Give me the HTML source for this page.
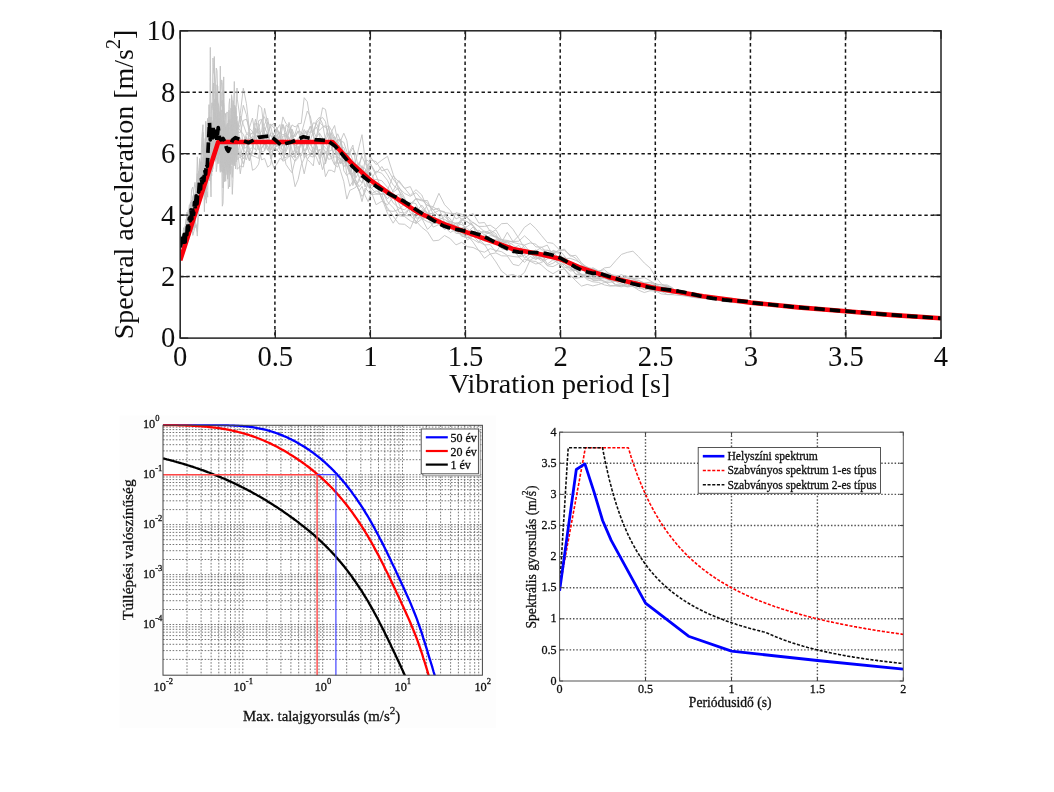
<!DOCTYPE html>
<html><head><meta charset="utf-8"><title>Spectra</title>
<style>
html,body{margin:0;padding:0;background:#fff;}
body{width:1054px;height:792px;overflow:hidden;font-family:"Liberation Serif",serif;}
svg{display:block;position:absolute;left:0;top:0;}
</style></head><body>
<svg width="1054" height="792" viewBox="0 0 1054 792">
<defs><filter id="b1" x="0" y="0" width="1054" height="792" filterUnits="userSpaceOnUse"><feGaussianBlur stdDeviation="0.35"/></filter><filter id="b2" x="0" y="0" width="1054" height="792" filterUnits="userSpaceOnUse"><feGaussianBlur stdDeviation="0.55"/></filter></defs>
<rect width="1054" height="792" fill="#fff"/>
<g id="c1" filter="url(#b1)">
<clipPath id="cp1"><rect x="180.2" y="30.8" width="760.8" height="307.3"/></clipPath>
<path d="M274.9,30.8 V338.1 M370.0,30.8 V338.1 M465.1,30.8 V338.1 M560.2,30.8 V338.1 M655.3,30.8 V338.1 M750.4,30.8 V338.1 M845.5,30.8 V338.1 M180.2,276.6 H941.0 M180.2,215.2 H941.0 M180.2,153.7 H941.0 M180.2,92.3 H941.0" stroke="#181818" stroke-width="1.5" stroke-dasharray="3.4 2.75" fill="none"/>
<g clip-path="url(#cp1)">
<path d="M180.2,250.2 L181.3,255.8 L182.5,251.5 L183.6,240.2 L184.8,238.4 L185.9,234.0 L187.0,230.8 L188.2,233.3 L189.3,237.1 L190.5,231.5 L191.6,218.4 L192.8,209.1 L193.9,216.7 L195.0,227.9 L196.2,210.6 L197.3,179.4 L198.5,176.4 L199.6,187.9 L200.7,179.7 L201.9,176.9 L203.0,168.6 L203.7,151.6 L204.4,155.2 L205.0,169.1 L205.7,169.0 L206.4,165.7 L207.0,174.9 L207.7,167.5 L208.3,150.8 L209.0,133.9 L209.7,131.9 L210.3,47.4 L211.0,135.1 L211.7,131.8 L212.3,131.7 L213.0,120.6 L213.7,145.7 L214.3,146.7 L215.0,128.1 L215.7,161.3 L216.3,152.1 L217.0,127.8 L217.7,109.6 L218.3,125.6 L219.0,141.2 L219.7,126.5 L220.3,146.1 L221.0,167.7 L221.7,140.2 L222.3,106.2 L223.0,101.4 L223.7,103.2 L224.3,111.1 L225.0,119.1 L225.7,113.3 L226.3,129.0 L227.0,149.0 L227.7,129.2 L228.3,145.3 L229.0,135.7 L229.7,134.4 L230.3,144.9 L231.0,108.1 L231.6,124.0 L232.3,163.0 L233.0,137.1 L233.6,147.0 L234.3,164.1 L235.0,151.8 L235.6,143.8 L236.3,136.3 L237.0,135.6 L237.3,131.3 L240.3,116.0 L243.3,124.5 L246.4,133.3 L249.4,132.7 L252.5,144.4 L255.5,128.4 L258.6,134.1 L261.6,131.8 L264.6,108.3 L267.7,123.9 L270.7,158.7 L273.8,147.8 L276.8,150.0 L279.9,152.7 L282.9,161.2 L286.0,159.6 L289.0,156.3 L292.0,135.2 L295.1,152.5 L298.1,151.7 L301.2,143.9 L304.2,138.8 L307.3,146.2 L310.3,141.0 L313.3,130.5 L316.4,127.2 L319.4,134.0 L322.5,153.2 L325.5,161.6 L328.6,153.2 L331.6,158.5 L334.6,165.0 L337.7,157.8 L340.7,141.0 L343.8,142.3 L346.8,151.5 L349.9,161.5 L352.9,185.6 L355.9,171.5 L359.0,162.5 L362.0,169.3 L365.1,172.1 L368.1,168.2 L370.4,171.8 L376.1,183.7 L381.8,199.1 L387.5,207.8 L393.2,216.2 L398.9,223.9 L404.6,224.3 L410.3,228.7 L416.0,214.9 L421.8,214.3 L427.5,204.8 L433.2,209.9 L438.9,208.2 L444.6,222.5 L450.3,221.4 L456.0,223.4 L461.7,231.0 L467.4,239.9 L473.1,236.0 L478.8,241.8 L484.5,244.9 L490.2,244.6 L495.9,252.1 L501.6,244.3 L507.3,241.6 L513.0,248.3 L518.8,251.4 L524.5,245.2 L530.2,252.4 L535.9,254.3 L541.6,257.9 L547.3,257.2 L553.0,252.6 L558.7,257.2 L564.4,258.5 L570.1,258.3 L575.8,260.3 L581.5,263.4 L587.2,267.3 L592.9,272.9 L598.6,273.4 L604.3,277.2 L610.1,280.4 L615.8,285.3 L621.5,285.5 L627.2,285.9 L632.9,284.5 L638.6,282.4 L644.3,286.1 L650.0,285.7 L655.7,284.2 L661.4,285.0 L667.1,285.8 L672.8,288.5 L674.7,291.4 L684.2,293.0 L693.7,295.5 L703.2,296.6 L712.8,298.4 L722.3,300.2 L731.8,301.5 L741.3,301.7 L750.8,302.8 L760.3,303.3 L769.8,304.3 L779.3,305.3 L788.8,306.1 L798.3,306.8 L807.9,307.9 L817.4,308.6 L826.9,309.2 L836.4,309.9 L845.9,310.7 L855.4,311.5 L864.9,312.6 L874.4,313.3 L883.9,314.2 L893.5,315.0 L903.0,315.7 L912.5,316.3 L922.0,317.0 L931.5,317.7 L941.0,318.4" stroke="#c2c2c2" stroke-width="0.9" fill="none" stroke-linejoin="round"/>
<path d="M180.2,249.8 L181.3,238.4 L182.5,239.8 L183.6,242.0 L184.8,241.4 L185.9,229.4 L187.0,224.2 L188.2,226.1 L189.3,209.8 L190.5,205.9 L191.6,219.5 L192.8,235.4 L193.9,231.2 L195.0,227.0 L196.2,224.6 L197.3,236.1 L198.5,213.9 L199.6,198.4 L200.7,177.1 L201.9,172.7 L203.0,156.7 L203.7,177.9 L204.4,211.7 L205.0,189.6 L205.7,175.7 L206.4,192.8 L207.0,178.4 L207.7,154.8 L208.3,131.6 L209.0,136.9 L209.7,163.2 L210.3,145.1 L211.0,145.5 L211.7,128.5 L212.3,127.8 L213.0,129.7 L213.7,145.0 L214.3,143.7 L215.0,99.0 L215.7,109.8 L216.3,117.5 L217.0,139.8 L217.7,86.1 L218.3,163.6 L219.0,150.1 L219.7,119.5 L220.3,66.1 L221.0,161.1 L221.7,151.5 L222.3,104.1 L223.0,99.8 L223.7,125.1 L224.3,122.8 L225.0,119.4 L225.7,131.6 L226.3,154.7 L227.0,166.5 L227.7,132.6 L228.3,123.6 L229.0,154.1 L229.7,169.7 L230.3,174.3 L231.0,156.3 L231.6,161.9 L232.3,147.3 L233.0,147.2 L233.6,151.3 L234.3,138.1 L235.0,120.6 L235.6,107.5 L236.3,110.2 L237.0,139.3 L237.3,131.1 L240.3,124.4 L243.3,105.3 L246.4,114.7 L249.4,134.4 L252.5,133.4 L255.5,119.2 L258.6,133.1 L261.6,136.0 L264.6,150.6 L267.7,140.2 L270.7,134.2 L273.8,143.0 L276.8,150.8 L279.9,145.3 L282.9,135.9 L286.0,136.2 L289.0,137.1 L292.0,150.1 L295.1,158.1 L298.1,145.9 L301.2,159.8 L304.2,173.8 L307.3,159.4 L310.3,162.4 L313.3,165.9 L316.4,141.8 L319.4,142.0 L322.5,144.4 L325.5,147.9 L328.6,151.2 L331.6,150.4 L334.6,142.2 L337.7,140.7 L340.7,140.6 L343.8,133.2 L346.8,140.3 L349.9,161.0 L352.9,177.6 L355.9,164.3 L359.0,167.0 L362.0,173.6 L365.1,187.0 L368.1,178.7 L370.4,186.0 L376.1,182.8 L381.8,190.7 L387.5,192.6 L393.2,202.9 L398.9,207.9 L404.6,209.9 L410.3,204.0 L416.0,198.5 L421.8,200.0 L427.5,205.4 L433.2,206.7 L438.9,193.3 L444.6,204.7 L450.3,210.6 L456.0,218.9 L461.7,216.3 L467.4,217.5 L473.1,225.9 L478.8,239.4 L484.5,244.3 L490.2,253.8 L495.9,261.9 L501.6,271.1 L507.3,275.5 L513.0,274.5 L518.8,277.1 L524.5,272.4 L530.2,260.0 L535.9,256.9 L541.6,261.0 L547.3,256.2 L553.0,250.2 L558.7,252.5 L564.4,260.9 L570.1,267.9 L575.8,267.9 L581.5,265.0 L587.2,272.1 L592.9,280.6 L598.6,280.5 L604.3,281.0 L610.1,285.5 L615.8,285.6 L621.5,285.8 L627.2,286.5 L632.9,285.2 L638.6,284.6 L644.3,283.3 L650.0,282.1 L655.7,283.9 L661.4,284.9 L667.1,284.9 L672.8,287.9 L674.7,290.5 L684.2,292.8 L693.7,295.3 L703.2,297.6 L712.8,298.9 L722.3,300.8 L731.8,301.5 L741.3,302.2 L750.8,303.6 L760.3,304.6 L769.8,304.7 L779.3,305.4 L788.8,306.1 L798.3,307.0 L807.9,307.4 L817.4,308.2 L826.9,308.9 L836.4,309.9 L845.9,310.8 L855.4,311.6 L864.9,312.3 L874.4,313.3 L883.9,313.9 L893.5,314.5 L903.0,315.2 L912.5,315.7 L922.0,316.4 L931.5,317.2 L941.0,317.9" stroke="#c2c2c2" stroke-width="0.9" fill="none" stroke-linejoin="round"/>
<path d="M180.2,246.8 L181.3,238.6 L182.5,245.5 L183.6,248.5 L184.8,239.5 L185.9,234.9 L187.0,227.1 L188.2,227.2 L189.3,228.8 L190.5,214.2 L191.6,200.3 L192.8,203.7 L193.9,206.0 L195.0,206.4 L196.2,212.6 L197.3,201.9 L198.5,185.8 L199.6,192.6 L200.7,191.1 L201.9,160.0 L203.0,143.3 L203.7,156.4 L204.4,156.6 L205.0,154.3 L205.7,145.9 L206.4,169.4 L207.0,174.0 L207.7,166.5 L208.3,152.1 L209.0,140.1 L209.7,172.8 L210.3,150.6 L211.0,116.9 L211.7,166.4 L212.3,153.7 L213.0,122.3 L213.7,83.0 L214.3,131.9 L215.0,137.1 L215.7,150.0 L216.3,171.7 L217.0,165.8 L217.7,144.8 L218.3,132.5 L219.0,122.8 L219.7,128.7 L220.3,170.3 L221.0,154.9 L221.7,137.6 L222.3,154.9 L223.0,148.0 L223.7,76.9 L224.3,148.1 L225.0,144.7 L225.7,130.1 L226.3,124.6 L227.0,160.4 L227.7,167.0 L228.3,188.7 L229.0,184.1 L229.7,162.9 L230.3,153.7 L231.0,164.5 L231.6,157.2 L232.3,116.5 L233.0,119.4 L233.6,134.6 L234.3,118.5 L235.0,126.5 L235.6,139.1 L236.3,130.5 L237.0,120.9 L237.3,148.5 L240.3,173.8 L243.3,152.0 L246.4,136.6 L249.4,160.5 L252.5,150.0 L255.5,133.2 L258.6,129.1 L261.6,137.6 L264.6,124.2 L267.7,118.1 L270.7,136.3 L273.8,137.2 L276.8,142.7 L279.9,146.9 L282.9,139.0 L286.0,151.7 L289.0,144.0 L292.0,129.1 L295.1,136.9 L298.1,131.7 L301.2,132.0 L304.2,136.3 L307.3,142.9 L310.3,150.2 L313.3,151.9 L316.4,145.0 L319.4,158.6 L322.5,148.8 L325.5,137.3 L328.6,126.7 L331.6,148.7 L334.6,155.2 L337.7,144.6 L340.7,147.3 L343.8,147.5 L346.8,156.7 L349.9,173.2 L352.9,177.9 L355.9,184.3 L359.0,190.2 L362.0,201.6 L365.1,188.1 L368.1,191.1 L370.4,194.6 L376.1,194.1 L381.8,194.1 L387.5,190.2 L393.2,175.8 L398.9,182.1 L404.6,188.2 L410.3,195.3 L416.0,189.7 L421.8,195.0 L427.5,208.9 L433.2,220.8 L438.9,223.4 L444.6,228.9 L450.3,227.7 L456.0,233.3 L461.7,233.8 L467.4,233.8 L473.1,231.7 L478.8,234.6 L484.5,238.9 L490.2,235.6 L495.9,236.6 L501.6,239.5 L507.3,242.6 L513.0,248.5 L518.8,257.1 L524.5,255.3 L530.2,260.8 L535.9,261.5 L541.6,265.2 L547.3,270.3 L553.0,273.7 L558.7,270.3 L564.4,268.9 L570.1,276.2 L575.8,278.3 L581.5,277.4 L587.2,273.1 L592.9,272.3 L598.6,278.4 L604.3,281.6 L610.1,280.6 L615.8,281.5 L621.5,284.2 L627.2,287.0 L632.9,286.2 L638.6,283.4 L644.3,286.0 L650.0,288.0 L655.7,288.5 L661.4,290.1 L667.1,291.0 L672.8,292.9 L674.7,292.7 L684.2,293.7 L693.7,294.5 L703.2,295.8 L712.8,296.9 L722.3,298.0 L731.8,299.1 L741.3,301.1 L750.8,302.3 L760.3,303.6 L769.8,304.7 L779.3,305.3 L788.8,306.0 L798.3,307.0 L807.9,307.6 L817.4,308.8 L826.9,309.5 L836.4,310.5 L845.9,311.2 L855.4,312.1 L864.9,312.8 L874.4,313.6 L883.9,314.1 L893.5,315.0 L903.0,315.6 L912.5,316.5 L922.0,317.2 L931.5,317.9 L941.0,318.4" stroke="#c2c2c2" stroke-width="0.9" fill="none" stroke-linejoin="round"/>
<path d="M180.2,261.7 L181.3,260.2 L182.5,251.8 L183.6,243.2 L184.8,240.3 L185.9,240.8 L187.0,236.3 L188.2,228.8 L189.3,224.3 L190.5,214.0 L191.6,200.7 L192.8,205.8 L193.9,214.2 L195.0,216.1 L196.2,199.4 L197.3,202.1 L198.5,190.8 L199.6,173.2 L200.7,165.6 L201.9,136.4 L203.0,124.7 L203.7,161.2 L204.4,164.3 L205.0,150.9 L205.7,170.9 L206.4,166.8 L207.0,181.3 L207.7,177.7 L208.3,158.8 L209.0,136.8 L209.7,123.5 L210.3,175.0 L211.0,196.9 L211.7,162.2 L212.3,155.3 L213.0,151.0 L213.7,140.0 L214.3,134.1 L215.0,153.2 L215.7,144.3 L216.3,115.8 L217.0,123.5 L217.7,126.4 L218.3,105.4 L219.0,131.5 L219.7,143.8 L220.3,133.7 L221.0,131.9 L221.7,125.9 L222.3,122.3 L223.0,122.0 L223.7,149.8 L224.3,173.4 L225.0,161.7 L225.7,131.3 L226.3,114.8 L227.0,111.9 L227.7,113.1 L228.3,133.0 L229.0,141.8 L229.7,134.5 L230.3,134.0 L231.0,119.3 L231.6,127.3 L232.3,142.1 L233.0,100.5 L233.6,103.0 L234.3,147.6 L235.0,154.6 L235.6,168.9 L236.3,149.0 L237.0,141.2 L237.3,159.6 L240.3,156.4 L243.3,164.1 L246.4,153.1 L249.4,138.5 L252.5,137.0 L255.5,123.4 L258.6,124.1 L261.6,138.8 L264.6,131.4 L267.7,122.3 L270.7,126.5 L273.8,139.5 L276.8,146.9 L279.9,140.6 L282.9,125.4 L286.0,137.3 L289.0,133.2 L292.0,124.9 L295.1,126.9 L298.1,125.1 L301.2,137.1 L304.2,129.5 L307.3,135.0 L310.3,126.1 L313.3,135.8 L316.4,120.9 L319.4,117.3 L322.5,123.6 L325.5,139.9 L328.6,134.2 L331.6,140.8 L334.6,146.4 L337.7,158.0 L340.7,163.5 L343.8,159.9 L346.8,164.6 L349.9,173.5 L352.9,164.3 L355.9,160.3 L359.0,146.8 L362.0,134.7 L365.1,159.3 L368.1,175.6 L370.4,186.9 L376.1,193.7 L381.8,194.2 L387.5,210.6 L393.2,211.4 L398.9,209.4 L404.6,203.7 L410.3,207.2 L416.0,223.6 L421.8,218.8 L427.5,217.3 L433.2,227.1 L438.9,224.6 L444.6,229.4 L450.3,226.7 L456.0,212.7 L461.7,214.3 L467.4,217.6 L473.1,222.7 L478.8,226.6 L484.5,231.8 L490.2,234.0 L495.9,237.0 L501.6,241.2 L507.3,241.0 L513.0,241.5 L518.8,241.2 L524.5,235.8 L530.2,241.0 L535.9,246.9 L541.6,247.1 L547.3,253.4 L553.0,256.1 L558.7,263.6 L564.4,267.8 L570.1,266.9 L575.8,274.4 L581.5,275.3 L587.2,275.6 L592.9,276.9 L598.6,272.1 L604.3,267.9 L610.1,267.2 L615.8,260.6 L621.5,254.4 L627.2,252.4 L632.9,251.2 L638.6,256.7 L644.3,263.0 L650.0,267.9 L655.7,276.9 L661.4,283.9 L667.1,287.1 L672.8,289.5 L674.7,289.7 L684.2,294.3 L693.7,295.7 L703.2,296.2 L712.8,298.7 L722.3,300.0 L731.8,300.9 L741.3,302.1 L750.8,302.3 L760.3,303.7 L769.8,304.7 L779.3,305.4 L788.8,306.0 L798.3,307.1 L807.9,308.0 L817.4,309.2 L826.9,310.0 L836.4,310.8 L845.9,311.4 L855.4,312.3 L864.9,312.9 L874.4,313.7 L883.9,314.2 L893.5,315.0 L903.0,315.8 L912.5,316.5 L922.0,317.0 L931.5,317.7 L941.0,318.2" stroke="#c2c2c2" stroke-width="0.9" fill="none" stroke-linejoin="round"/>
<path d="M180.2,238.6 L181.3,241.7 L182.5,242.2 L183.6,236.7 L184.8,235.1 L185.9,236.0 L187.0,237.2 L188.2,233.0 L189.3,223.1 L190.5,221.1 L191.6,223.9 L192.8,216.8 L193.9,216.0 L195.0,205.7 L196.2,206.1 L197.3,211.8 L198.5,193.5 L199.6,167.8 L200.7,183.0 L201.9,173.1 L203.0,170.5 L203.7,171.2 L204.4,157.7 L205.0,159.8 L205.7,154.4 L206.4,165.1 L207.0,157.5 L207.7,156.3 L208.3,158.1 L209.0,119.9 L209.7,146.4 L210.3,141.7 L211.0,121.9 L211.7,137.5 L212.3,103.1 L213.0,58.0 L213.7,73.1 L214.3,74.0 L215.0,81.1 L215.7,113.5 L216.3,101.5 L217.0,123.2 L217.7,134.7 L218.3,109.7 L219.0,118.1 L219.7,138.2 L220.3,139.6 L221.0,141.5 L221.7,155.3 L222.3,206.2 L223.0,203.5 L223.7,176.5 L224.3,157.8 L225.0,149.0 L225.7,154.2 L226.3,133.5 L227.0,128.1 L227.7,145.5 L228.3,137.2 L229.0,110.2 L229.7,126.5 L230.3,147.9 L231.0,127.0 L231.6,96.1 L232.3,104.5 L233.0,119.2 L233.6,106.3 L234.3,81.5 L235.0,109.7 L235.6,113.8 L236.3,136.3 L237.0,146.7 L237.3,125.0 L240.3,142.4 L243.3,149.2 L246.4,154.1 L249.4,127.7 L252.5,118.0 L255.5,137.9 L258.6,149.9 L261.6,148.4 L264.6,142.3 L267.7,145.3 L270.7,157.4 L273.8,167.7 L276.8,164.3 L279.9,158.3 L282.9,160.0 L286.0,149.1 L289.0,129.4 L292.0,136.8 L295.1,134.0 L298.1,123.7 L301.2,123.5 L304.2,97.7 L307.3,101.7 L310.3,121.0 L313.3,136.3 L316.4,149.8 L319.4,150.8 L322.5,147.7 L325.5,151.6 L328.6,159.4 L331.6,158.5 L334.6,156.8 L337.7,157.2 L340.7,159.6 L343.8,151.5 L346.8,165.8 L349.9,174.4 L352.9,173.3 L355.9,168.0 L359.0,163.9 L362.0,156.3 L365.1,163.7 L368.1,165.7 L370.4,159.9 L376.1,161.6 L381.8,170.9 L387.5,169.0 L393.2,179.1 L398.9,186.9 L404.6,197.9 L410.3,212.9 L416.0,216.8 L421.8,209.7 L427.5,213.5 L433.2,222.7 L438.9,224.1 L444.6,226.1 L450.3,223.8 L456.0,225.4 L461.7,235.6 L467.4,237.6 L473.1,235.9 L478.8,230.0 L484.5,235.1 L490.2,238.4 L495.9,243.5 L501.6,242.9 L507.3,248.3 L513.0,250.4 L518.8,256.2 L524.5,253.0 L530.2,254.1 L535.9,256.3 L541.6,259.1 L547.3,265.3 L553.0,263.2 L558.7,259.5 L564.4,264.4 L570.1,268.2 L575.8,266.3 L581.5,266.7 L587.2,266.8 L592.9,270.3 L598.6,278.1 L604.3,277.4 L610.1,276.2 L615.8,279.7 L621.5,280.0 L627.2,280.2 L632.9,281.3 L638.6,280.6 L644.3,282.8 L650.0,282.9 L655.7,284.9 L661.4,288.5 L667.1,287.0 L672.8,288.8 L674.7,290.4 L684.2,291.7 L693.7,294.5 L703.2,296.6 L712.8,297.7 L722.3,299.4 L731.8,300.9 L741.3,301.7 L750.8,303.6 L760.3,304.1 L769.8,305.2 L779.3,306.1 L788.8,306.6 L798.3,307.1 L807.9,307.8 L817.4,308.6 L826.9,309.2 L836.4,309.9 L845.9,310.6 L855.4,311.7 L864.9,312.8 L874.4,313.4 L883.9,314.2 L893.5,315.2 L903.0,315.8 L912.5,316.4 L922.0,317.2 L931.5,317.8 L941.0,318.5" stroke="#c2c2c2" stroke-width="0.9" fill="none" stroke-linejoin="round"/>
<path d="M180.2,246.8 L181.3,244.1 L182.5,242.3 L183.6,239.9 L184.8,237.8 L185.9,238.9 L187.0,230.1 L188.2,230.2 L189.3,231.6 L190.5,211.0 L191.6,212.5 L192.8,230.0 L193.9,210.9 L195.0,198.9 L196.2,205.1 L197.3,190.3 L198.5,171.4 L199.6,178.7 L200.7,180.6 L201.9,185.0 L203.0,189.4 L203.7,171.6 L204.4,162.4 L205.0,148.1 L205.7,138.7 L206.4,147.5 L207.0,152.5 L207.7,145.2 L208.3,164.4 L209.0,142.8 L209.7,136.8 L210.3,119.8 L211.0,117.4 L211.7,127.3 L212.3,132.5 L213.0,131.9 L213.7,117.6 L214.3,101.7 L215.0,99.5 L215.7,104.9 L216.3,99.7 L217.0,91.6 L217.7,102.8 L218.3,132.5 L219.0,153.2 L219.7,152.6 L220.3,130.0 L221.0,151.2 L221.7,150.8 L222.3,145.2 L223.0,167.8 L223.7,152.1 L224.3,156.6 L225.0,139.9 L225.7,133.0 L226.3,152.3 L227.0,174.6 L227.7,152.7 L228.3,120.7 L229.0,139.7 L229.7,170.1 L230.3,156.8 L231.0,144.5 L231.6,134.0 L232.3,121.4 L233.0,135.0 L233.6,124.7 L234.3,111.7 L235.0,128.9 L235.6,131.2 L236.3,145.5 L237.0,122.8 L237.3,149.7 L240.3,156.1 L243.3,144.9 L246.4,137.5 L249.4,148.4 L252.5,153.9 L255.5,152.5 L258.6,145.5 L261.6,159.9 L264.6,158.4 L267.7,167.2 L270.7,164.7 L273.8,142.8 L276.8,129.2 L279.9,133.0 L282.9,134.9 L286.0,133.1 L289.0,147.4 L292.0,169.7 L295.1,186.7 L298.1,179.5 L301.2,165.0 L304.2,158.4 L307.3,143.0 L310.3,140.2 L313.3,153.5 L316.4,144.9 L319.4,154.8 L322.5,152.4 L325.5,153.6 L328.6,147.8 L331.6,141.1 L334.6,164.9 L337.7,167.1 L340.7,158.2 L343.8,167.1 L346.8,161.7 L349.9,151.0 L352.9,145.1 L355.9,165.5 L359.0,167.3 L362.0,154.0 L365.1,153.4 L368.1,170.6 L370.4,156.9 L376.1,164.6 L381.8,160.2 L387.5,156.3 L393.2,174.3 L398.9,190.5 L404.6,199.7 L410.3,205.2 L416.0,211.0 L421.8,218.3 L427.5,229.4 L433.2,223.6 L438.9,217.7 L444.6,219.4 L450.3,222.9 L456.0,227.2 L461.7,218.5 L467.4,222.1 L473.1,225.4 L478.8,232.6 L484.5,232.8 L490.2,230.2 L495.9,233.7 L501.6,245.8 L507.3,246.2 L513.0,248.3 L518.8,251.2 L524.5,252.8 L530.2,253.1 L535.9,256.1 L541.6,253.7 L547.3,255.2 L553.0,258.8 L558.7,261.2 L564.4,266.3 L570.1,271.0 L575.8,270.3 L581.5,274.6 L587.2,278.2 L592.9,279.1 L598.6,278.6 L604.3,275.3 L610.1,280.0 L615.8,284.5 L621.5,283.9 L627.2,284.8 L632.9,286.3 L638.6,290.2 L644.3,292.5 L650.0,290.8 L655.7,291.0 L661.4,293.9 L667.1,294.5 L672.8,294.4 L674.7,292.7 L684.2,294.5 L693.7,297.3 L703.2,298.2 L712.8,298.5 L722.3,299.5 L731.8,300.6 L741.3,302.5 L750.8,303.9 L760.3,304.6 L769.8,305.5 L779.3,306.4 L788.8,307.4 L798.3,308.2 L807.9,308.6 L817.4,309.3 L826.9,309.7 L836.4,310.4 L845.9,310.9 L855.4,311.4 L864.9,312.4 L874.4,313.4 L883.9,314.3 L893.5,315.0 L903.0,315.5 L912.5,316.2 L922.0,316.8 L931.5,317.4 L941.0,318.1" stroke="#c2c2c2" stroke-width="0.9" fill="none" stroke-linejoin="round"/>
<path d="M180.2,250.1 L181.3,252.9 L182.5,248.6 L183.6,240.5 L184.8,234.8 L185.9,238.4 L187.0,224.7 L188.2,215.4 L189.3,204.9 L190.5,205.3 L191.6,205.6 L192.8,218.4 L193.9,217.9 L195.0,200.3 L196.2,191.8 L197.3,196.0 L198.5,185.6 L199.6,160.5 L200.7,163.4 L201.9,178.2 L203.0,175.1 L203.7,180.4 L204.4,175.3 L205.0,190.3 L205.7,199.5 L206.4,188.4 L207.0,177.7 L207.7,156.0 L208.3,146.2 L209.0,163.0 L209.7,180.7 L210.3,167.2 L211.0,160.4 L211.7,175.9 L212.3,135.7 L213.0,131.0 L213.7,126.3 L214.3,56.5 L215.0,87.7 L215.7,139.0 L216.3,134.2 L217.0,137.6 L217.7,141.6 L218.3,124.5 L219.0,144.8 L219.7,142.7 L220.3,120.1 L221.0,133.3 L221.7,129.2 L222.3,155.7 L223.0,188.0 L223.7,160.1 L224.3,129.7 L225.0,135.5 L225.7,138.3 L226.3,128.6 L227.0,141.9 L227.7,160.8 L228.3,165.7 L229.0,144.8 L229.7,132.0 L230.3,158.3 L231.0,140.9 L231.6,94.7 L232.3,109.8 L233.0,143.5 L233.6,150.5 L234.3,134.4 L235.0,131.2 L235.6,120.1 L236.3,117.7 L237.0,127.8 L237.3,132.5 L240.3,113.6 L243.3,88.2 L246.4,103.4 L249.4,130.1 L252.5,146.0 L255.5,150.1 L258.6,120.7 L261.6,119.3 L264.6,145.2 L267.7,133.6 L270.7,126.5 L273.8,123.1 L276.8,140.3 L279.9,134.5 L282.9,116.9 L286.0,123.6 L289.0,126.3 L292.0,130.0 L295.1,150.2 L298.1,154.0 L301.2,141.9 L304.2,132.1 L307.3,130.8 L310.3,132.7 L313.3,131.4 L316.4,123.0 L319.4,119.7 L322.5,117.4 L325.5,121.7 L328.6,139.8 L331.6,131.5 L334.6,125.5 L337.7,141.7 L340.7,164.0 L343.8,157.6 L346.8,166.3 L349.9,165.6 L352.9,168.5 L355.9,177.8 L359.0,171.9 L362.0,165.5 L365.1,177.5 L368.1,186.4 L370.4,184.6 L376.1,185.7 L381.8,198.2 L387.5,213.4 L393.2,223.2 L398.9,214.0 L404.6,215.8 L410.3,207.3 L416.0,211.9 L421.8,205.1 L427.5,213.2 L433.2,207.1 L438.9,210.3 L444.6,212.6 L450.3,213.3 L456.0,213.7 L461.7,219.6 L467.4,216.5 L473.1,213.4 L478.8,223.1 L484.5,222.5 L490.2,231.4 L495.9,236.1 L501.6,240.3 L507.3,244.5 L513.0,253.7 L518.8,248.6 L524.5,254.4 L530.2,252.8 L535.9,249.9 L541.6,254.6 L547.3,252.3 L553.0,255.9 L558.7,257.7 L564.4,257.3 L570.1,263.2 L575.8,266.5 L581.5,269.6 L587.2,271.4 L592.9,267.7 L598.6,270.9 L604.3,273.0 L610.1,273.4 L615.8,279.2 L621.5,279.9 L627.2,282.9 L632.9,285.7 L638.6,284.7 L644.3,287.3 L650.0,289.0 L655.7,287.5 L661.4,286.8 L667.1,288.3 L672.8,289.1 L674.7,290.7 L684.2,292.6 L693.7,295.2 L703.2,297.7 L712.8,299.0 L722.3,300.3 L731.8,301.8 L741.3,302.4 L750.8,303.0 L760.3,303.2 L769.8,303.6 L779.3,304.9 L788.8,305.5 L798.3,306.0 L807.9,306.8 L817.4,308.0 L826.9,308.9 L836.4,309.7 L845.9,310.6 L855.4,311.7 L864.9,312.7 L874.4,313.7 L883.9,314.4 L893.5,315.2 L903.0,316.0 L912.5,316.7 L922.0,317.2 L931.5,317.8 L941.0,318.3" stroke="#c2c2c2" stroke-width="0.9" fill="none" stroke-linejoin="round"/>
<path d="M180.2,242.7 L181.3,240.7 L182.5,245.7 L183.6,241.8 L184.8,227.4 L185.9,222.3 L187.0,218.9 L188.2,210.1 L189.3,214.0 L190.5,219.1 L191.6,211.9 L192.8,205.0 L193.9,212.0 L195.0,204.5 L196.2,200.8 L197.3,199.3 L198.5,181.5 L199.6,179.1 L200.7,174.2 L201.9,178.3 L203.0,180.1 L203.7,165.6 L204.4,190.3 L205.0,173.2 L205.7,168.5 L206.4,163.1 L207.0,152.2 L207.7,158.6 L208.3,131.2 L209.0,104.6 L209.7,128.6 L210.3,124.5 L211.0,120.1 L211.7,103.0 L212.3,102.7 L213.0,109.9 L213.7,109.2 L214.3,119.9 L215.0,120.7 L215.7,135.3 L216.3,121.1 L217.0,134.4 L217.7,148.2 L218.3,120.8 L219.0,121.3 L219.7,136.3 L220.3,127.1 L221.0,109.8 L221.7,133.3 L222.3,154.0 L223.0,173.1 L223.7,165.2 L224.3,130.8 L225.0,140.3 L225.7,167.5 L226.3,158.1 L227.0,156.1 L227.7,141.5 L228.3,125.3 L229.0,167.6 L229.7,187.0 L230.3,164.5 L231.0,167.1 L231.6,166.5 L232.3,194.4 L233.0,179.6 L233.6,160.7 L234.3,128.3 L235.0,105.6 L235.6,112.7 L236.3,137.4 L237.0,154.5 L237.3,143.7 L240.3,157.7 L243.3,154.6 L246.4,159.8 L249.4,149.6 L252.5,147.4 L255.5,132.6 L258.6,105.1 L261.6,107.8 L264.6,134.4 L267.7,133.5 L270.7,123.9 L273.8,127.9 L276.8,131.5 L279.9,150.0 L282.9,154.3 L286.0,136.8 L289.0,138.7 L292.0,157.4 L295.1,155.5 L298.1,137.9 L301.2,136.6 L304.2,150.8 L307.3,149.2 L310.3,132.3 L313.3,122.9 L316.4,123.4 L319.4,130.5 L322.5,127.1 L325.5,125.5 L328.6,134.6 L331.6,143.0 L334.6,140.5 L337.7,133.8 L340.7,141.3 L343.8,170.7 L346.8,175.5 L349.9,172.4 L352.9,179.1 L355.9,184.1 L359.0,181.7 L362.0,167.1 L365.1,168.4 L368.1,176.9 L370.4,180.7 L376.1,171.1 L381.8,173.3 L387.5,180.4 L393.2,192.1 L398.9,187.8 L404.6,193.4 L410.3,196.3 L416.0,192.6 L421.8,199.4 L427.5,203.0 L433.2,209.9 L438.9,216.3 L444.6,215.0 L450.3,218.9 L456.0,229.7 L461.7,228.0 L467.4,226.4 L473.1,222.3 L478.8,226.4 L484.5,226.4 L490.2,225.2 L495.9,229.2 L501.6,223.7 L507.3,223.3 L513.0,229.3 L518.8,238.4 L524.5,248.1 L530.2,253.7 L535.9,258.4 L541.6,258.7 L547.3,265.8 L553.0,266.6 L558.7,263.6 L564.4,264.5 L570.1,269.4 L575.8,269.9 L581.5,274.3 L587.2,274.3 L592.9,275.6 L598.6,279.0 L604.3,276.9 L610.1,276.9 L615.8,278.1 L621.5,279.9 L627.2,280.8 L632.9,283.2 L638.6,282.7 L644.3,285.8 L650.0,287.8 L655.7,287.7 L661.4,288.8 L667.1,290.3 L672.8,291.7 L674.7,293.0 L684.2,293.2 L693.7,295.5 L703.2,296.7 L712.8,297.0 L722.3,298.2 L731.8,299.8 L741.3,301.0 L750.8,302.9 L760.3,303.7 L769.8,304.7 L779.3,305.9 L788.8,306.8 L798.3,307.5 L807.9,307.9 L817.4,308.6 L826.9,309.1 L836.4,310.0 L845.9,310.6 L855.4,311.3 L864.9,311.8 L874.4,312.8 L883.9,313.7 L893.5,314.8 L903.0,315.6 L912.5,316.2 L922.0,316.8 L931.5,317.8 L941.0,318.3" stroke="#c2c2c2" stroke-width="0.9" fill="none" stroke-linejoin="round"/>
<path d="M180.2,244.5 L181.3,247.2 L182.5,241.2 L183.6,227.7 L184.8,230.6 L185.9,238.8 L187.0,234.3 L188.2,226.1 L189.3,211.0 L190.5,202.1 L191.6,210.0 L192.8,206.5 L193.9,196.3 L195.0,194.8 L196.2,195.3 L197.3,156.8 L198.5,194.5 L199.6,183.7 L200.7,181.4 L201.9,153.9 L203.0,132.2 L203.7,163.2 L204.4,152.2 L205.0,138.7 L205.7,137.5 L206.4,172.1 L207.0,162.9 L207.7,151.8 L208.3,167.8 L209.0,148.3 L209.7,132.2 L210.3,151.7 L211.0,142.2 L211.7,149.1 L212.3,123.1 L213.0,151.9 L213.7,145.2 L214.3,108.2 L215.0,103.6 L215.7,128.1 L216.3,159.5 L217.0,150.9 L217.7,116.0 L218.3,103.5 L219.0,107.1 L219.7,164.4 L220.3,172.3 L221.0,158.7 L221.7,146.3 L222.3,133.9 L223.0,138.7 L223.7,151.4 L224.3,170.7 L225.0,175.5 L225.7,139.3 L226.3,147.2 L227.0,170.0 L227.7,178.5 L228.3,174.0 L229.0,151.7 L229.7,159.5 L230.3,162.9 L231.0,154.0 L231.6,135.2 L232.3,122.6 L233.0,146.2 L233.6,161.4 L234.3,163.3 L235.0,132.7 L235.6,144.8 L236.3,121.3 L237.0,116.3 L237.3,126.1 L240.3,130.8 L243.3,134.2 L246.4,142.4 L249.4,150.6 L252.5,170.3 L255.5,168.6 L258.6,164.2 L261.6,148.0 L264.6,143.9 L267.7,146.2 L270.7,150.5 L273.8,144.7 L276.8,140.5 L279.9,136.2 L282.9,155.9 L286.0,157.8 L289.0,153.9 L292.0,157.0 L295.1,161.3 L298.1,158.1 L301.2,136.7 L304.2,150.9 L307.3,146.7 L310.3,156.2 L313.3,157.1 L316.4,137.3 L319.4,121.8 L322.5,125.5 L325.5,127.6 L328.6,125.5 L331.6,130.6 L334.6,138.0 L337.7,163.8 L340.7,162.0 L343.8,163.8 L346.8,153.6 L349.9,173.1 L352.9,165.3 L355.9,181.9 L359.0,191.1 L362.0,186.4 L365.1,195.4 L368.1,201.7 L370.4,194.5 L376.1,190.8 L381.8,194.3 L387.5,193.9 L393.2,193.3 L398.9,203.7 L404.6,215.6 L410.3,215.7 L416.0,221.0 L421.8,227.4 L427.5,231.8 L433.2,240.9 L438.9,240.2 L444.6,235.5 L450.3,238.7 L456.0,244.9 L461.7,242.3 L467.4,246.7 L473.1,247.5 L478.8,250.3 L484.5,258.3 L490.2,254.0 L495.9,252.9 L501.6,255.8 L507.3,256.0 L513.0,264.4 L518.8,265.7 L524.5,258.9 L530.2,261.3 L535.9,264.0 L541.6,262.5 L547.3,258.8 L553.0,254.9 L558.7,250.0 L564.4,250.4 L570.1,254.9 L575.8,258.3 L581.5,264.7 L587.2,267.5 L592.9,268.6 L598.6,272.2 L604.3,277.1 L610.1,276.8 L615.8,280.8 L621.5,279.4 L627.2,281.0 L632.9,282.1 L638.6,284.6 L644.3,287.1 L650.0,288.4 L655.7,288.3 L661.4,289.6 L667.1,292.1 L672.8,293.6 L674.7,290.4 L684.2,292.3 L693.7,294.2 L703.2,295.3 L712.8,296.8 L722.3,297.7 L731.8,298.4 L741.3,300.1 L750.8,301.3 L760.3,302.5 L769.8,303.4 L779.3,304.6 L788.8,305.9 L798.3,306.9 L807.9,308.0 L817.4,308.6 L826.9,309.4 L836.4,310.3 L845.9,310.8 L855.4,311.5 L864.9,312.1 L874.4,312.8 L883.9,313.7 L893.5,314.3 L903.0,315.0 L912.5,315.7 L922.0,316.4 L931.5,317.4 L941.0,318.0" stroke="#c2c2c2" stroke-width="0.9" fill="none" stroke-linejoin="round"/>
<path d="M180.2,258.7 L181.3,256.6 L182.5,245.2 L183.6,240.5 L184.8,237.0 L185.9,225.1 L187.0,212.0 L188.2,221.0 L189.3,212.9 L190.5,213.5 L191.6,213.1 L192.8,196.4 L193.9,193.8 L195.0,194.6 L196.2,188.8 L197.3,209.1 L198.5,195.7 L199.6,176.8 L200.7,164.3 L201.9,162.2 L203.0,175.5 L203.7,184.8 L204.4,178.8 L205.0,176.5 L205.7,190.2 L206.4,203.2 L207.0,191.7 L207.7,197.2 L208.3,165.5 L209.0,143.6 L209.7,163.1 L210.3,164.3 L211.0,132.8 L211.7,122.1 L212.3,144.9 L213.0,140.2 L213.7,102.8 L214.3,133.6 L215.0,138.9 L215.7,86.1 L216.3,68.1 L217.0,70.6 L217.7,92.4 L218.3,127.0 L219.0,142.5 L219.7,143.3 L220.3,163.3 L221.0,137.8 L221.7,144.2 L222.3,153.7 L223.0,117.3 L223.7,90.6 L224.3,141.5 L225.0,163.3 L225.7,165.4 L226.3,165.4 L227.0,171.6 L227.7,179.2 L228.3,170.4 L229.0,160.6 L229.7,147.1 L230.3,148.2 L231.0,136.2 L231.6,139.2 L232.3,127.8 L233.0,117.4 L233.6,141.0 L234.3,165.8 L235.0,157.7 L235.6,131.4 L236.3,134.1 L237.0,164.0 L237.3,169.3 L240.3,166.0 L243.3,167.0 L246.4,150.7 L249.4,151.9 L252.5,155.9 L255.5,156.8 L258.6,158.4 L261.6,137.1 L264.6,143.3 L267.7,150.2 L270.7,145.3 L273.8,133.4 L276.8,129.3 L279.9,124.6 L282.9,145.1 L286.0,138.4 L289.0,122.4 L292.0,134.2 L295.1,141.1 L298.1,142.0 L301.2,145.3 L304.2,133.8 L307.3,132.1 L310.3,126.6 L313.3,134.3 L316.4,144.4 L319.4,156.7 L322.5,169.7 L325.5,160.9 L328.6,145.1 L331.6,138.7 L334.6,136.7 L337.7,144.0 L340.7,139.1 L343.8,157.7 L346.8,155.6 L349.9,152.5 L352.9,160.3 L355.9,167.1 L359.0,177.6 L362.0,177.7 L365.1,160.1 L368.1,160.6 L370.4,163.5 L376.1,173.4 L381.8,166.5 L387.5,174.7 L393.2,185.1 L398.9,190.2 L404.6,205.6 L410.3,202.3 L416.0,203.7 L421.8,218.5 L427.5,221.7 L433.2,223.5 L438.9,220.4 L444.6,216.5 L450.3,221.4 L456.0,230.7 L461.7,220.1 L467.4,221.8 L473.1,226.1 L478.8,232.5 L484.5,231.1 L490.2,233.1 L495.9,229.8 L501.6,239.7 L507.3,240.4 L513.0,242.4 L518.8,243.8 L524.5,245.0 L530.2,242.9 L535.9,244.2 L541.6,250.0 L547.3,250.2 L553.0,252.4 L558.7,253.1 L564.4,259.2 L570.1,266.5 L575.8,274.1 L581.5,274.2 L587.2,279.6 L592.9,281.8 L598.6,282.4 L604.3,284.9 L610.1,286.1 L615.8,285.9 L621.5,286.8 L627.2,283.9 L632.9,286.6 L638.6,288.3 L644.3,288.1 L650.0,289.8 L655.7,291.1 L661.4,291.2 L667.1,294.6 L672.8,294.7 L674.7,294.9 L684.2,295.9 L693.7,297.5 L703.2,298.5 L712.8,299.1 L722.3,299.6 L731.8,299.5 L741.3,301.5 L750.8,302.6 L760.3,302.7 L769.8,304.4 L779.3,305.2 L788.8,306.4 L798.3,308.1 L807.9,308.2 L817.4,308.9 L826.9,309.9 L836.4,310.4 L845.9,311.5 L855.4,311.9 L864.9,312.7 L874.4,313.6 L883.9,314.5 L893.5,315.0 L903.0,315.6 L912.5,316.1 L922.0,316.9 L931.5,317.5 L941.0,318.1" stroke="#c2c2c2" stroke-width="0.9" fill="none" stroke-linejoin="round"/>
<path d="M180.2,241.6 L181.3,239.4 L182.5,239.3 L183.6,240.7 L184.8,246.6 L185.9,247.6 L187.0,234.3 L188.2,218.9 L189.3,210.8 L190.5,202.7 L191.6,203.7 L192.8,205.1 L193.9,189.5 L195.0,182.3 L196.2,192.5 L197.3,173.6 L198.5,181.6 L199.6,189.2 L200.7,173.8 L201.9,180.6 L203.0,179.8 L203.7,165.5 L204.4,188.8 L205.0,197.0 L205.7,183.9 L206.4,184.4 L207.0,189.5 L207.7,167.2 L208.3,146.1 L209.0,117.0 L209.7,142.4 L210.3,179.4 L211.0,156.4 L211.7,141.4 L212.3,168.9 L213.0,169.2 L213.7,148.0 L214.3,120.1 L215.0,107.0 L215.7,118.2 L216.3,105.3 L217.0,84.8 L217.7,105.2 L218.3,121.7 L219.0,133.3 L219.7,133.6 L220.3,126.9 L221.0,138.2 L221.7,171.5 L222.3,154.7 L223.0,152.4 L223.7,146.6 L224.3,181.8 L225.0,169.1 L225.7,127.6 L226.3,127.9 L227.0,145.3 L227.7,131.4 L228.3,142.1 L229.0,149.8 L229.7,159.9 L230.3,141.4 L231.0,129.5 L231.6,137.9 L232.3,146.1 L233.0,145.8 L233.6,126.1 L234.3,105.0 L235.0,118.3 L235.6,124.4 L236.3,107.3 L237.0,88.0 L237.3,99.1 L240.3,119.3 L243.3,148.1 L246.4,147.7 L249.4,135.4 L252.5,132.8 L255.5,136.1 L258.6,143.4 L261.6,136.8 L264.6,127.4 L267.7,134.4 L270.7,150.0 L273.8,139.7 L276.8,135.2 L279.9,132.9 L282.9,124.2 L286.0,131.6 L289.0,139.2 L292.0,140.4 L295.1,145.6 L298.1,143.0 L301.2,142.0 L304.2,158.1 L307.3,154.9 L310.3,154.0 L313.3,148.5 L316.4,153.1 L319.4,149.2 L322.5,158.2 L325.5,176.7 L328.6,170.1 L331.6,170.4 L334.6,172.2 L337.7,156.8 L340.7,159.0 L343.8,161.5 L346.8,156.6 L349.9,172.5 L352.9,178.5 L355.9,185.0 L359.0,189.8 L362.0,196.5 L365.1,192.2 L368.1,182.0 L370.4,189.5 L376.1,204.7 L381.8,201.3 L387.5,204.8 L393.2,196.9 L398.9,194.1 L404.6,205.0 L410.3,205.8 L416.0,198.7 L421.8,207.6 L427.5,213.5 L433.2,213.4 L438.9,210.5 L444.6,211.7 L450.3,226.3 L456.0,231.3 L461.7,234.7 L467.4,235.5 L473.1,242.1 L478.8,250.7 L484.5,252.2 L490.2,248.6 L495.9,250.4 L501.6,251.7 L507.3,255.4 L513.0,256.5 L518.8,257.1 L524.5,262.4 L530.2,256.4 L535.9,259.5 L541.6,256.1 L547.3,250.2 L553.0,251.8 L558.7,251.1 L564.4,249.0 L570.1,256.1 L575.8,255.3 L581.5,262.8 L587.2,267.7 L592.9,269.7 L598.6,272.1 L604.3,273.3 L610.1,273.7 L615.8,276.9 L621.5,274.5 L627.2,278.4 L632.9,279.0 L638.6,280.5 L644.3,283.1 L650.0,284.7 L655.7,286.0 L661.4,287.0 L667.1,286.6 L672.8,288.9 L674.7,290.4 L684.2,292.1 L693.7,294.9 L703.2,296.4 L712.8,297.8 L722.3,298.6 L731.8,299.8 L741.3,300.8 L750.8,301.5 L760.3,302.2 L769.8,303.4 L779.3,304.9 L788.8,306.1 L798.3,306.7 L807.9,307.4 L817.4,308.3 L826.9,309.0 L836.4,310.0 L845.9,310.7 L855.4,311.7 L864.9,312.7 L874.4,313.6 L883.9,314.4 L893.5,315.3 L903.0,315.8 L912.5,316.5 L922.0,317.1 L931.5,317.8 L941.0,318.3" stroke="#c2c2c2" stroke-width="0.9" fill="none" stroke-linejoin="round"/>
<path d="M180.2,244.8 L181.3,240.4 L182.5,236.2 L183.6,237.6 L184.8,233.5 L185.9,225.1 L187.0,227.4 L188.2,224.6 L189.3,225.0 L190.5,223.2 L191.6,213.1 L192.8,220.5 L193.9,227.4 L195.0,220.4 L196.2,224.6 L197.3,231.6 L198.5,198.9 L199.6,190.9 L200.7,189.0 L201.9,166.8 L203.0,172.5 L203.7,164.3 L204.4,171.7 L205.0,177.6 L205.7,149.8 L206.4,172.5 L207.0,154.0 L207.7,152.6 L208.3,176.0 L209.0,140.4 L209.7,145.9 L210.3,147.8 L211.0,140.0 L211.7,153.9 L212.3,156.2 L213.0,153.1 L213.7,138.8 L214.3,133.4 L215.0,157.2 L215.7,149.8 L216.3,145.4 L217.0,143.2 L217.7,148.0 L218.3,161.1 L219.0,116.0 L219.7,111.6 L220.3,128.7 L221.0,110.2 L221.7,140.9 L222.3,162.2 L223.0,171.8 L223.7,152.8 L224.3,153.1 L225.0,158.9 L225.7,147.2 L226.3,152.3 L227.0,149.7 L227.7,150.1 L228.3,138.2 L229.0,104.6 L229.7,98.7 L230.3,126.9 L231.0,140.2 L231.6,142.3 L232.3,139.9 L233.0,128.5 L233.6,151.1 L234.3,153.8 L235.0,135.9 L235.6,136.9 L236.3,132.8 L237.0,143.7 L237.3,140.5 L240.3,137.8 L243.3,144.8 L246.4,133.9 L249.4,135.9 L252.5,138.1 L255.5,134.6 L258.6,127.4 L261.6,120.4 L264.6,116.7 L267.7,128.5 L270.7,145.6 L273.8,142.7 L276.8,127.0 L279.9,138.2 L282.9,145.3 L286.0,155.0 L289.0,156.9 L292.0,154.4 L295.1,148.8 L298.1,141.0 L301.2,134.4 L304.2,123.0 L307.3,111.0 L310.3,116.2 L313.3,130.7 L316.4,137.6 L319.4,133.0 L322.5,138.0 L325.5,163.8 L328.6,151.9 L331.6,133.1 L334.6,142.7 L337.7,154.1 L340.7,141.7 L343.8,154.4 L346.8,173.8 L349.9,186.3 L352.9,181.2 L355.9,180.3 L359.0,186.8 L362.0,183.4 L365.1,170.1 L368.1,171.6 L370.4,181.4 L376.1,179.4 L381.8,180.7 L387.5,187.4 L393.2,195.6 L398.9,212.1 L404.6,213.1 L410.3,207.3 L416.0,218.1 L421.8,217.8 L427.5,216.4 L433.2,222.1 L438.9,222.0 L444.6,224.8 L450.3,226.0 L456.0,222.9 L461.7,224.6 L467.4,228.6 L473.1,234.3 L478.8,238.2 L484.5,241.2 L490.2,241.2 L495.9,241.1 L501.6,248.8 L507.3,250.2 L513.0,248.3 L518.8,245.3 L524.5,252.1 L530.2,252.9 L535.9,250.9 L541.6,247.4 L547.3,245.1 L553.0,255.8 L558.7,260.4 L564.4,262.2 L570.1,262.8 L575.8,267.8 L581.5,269.2 L587.2,273.7 L592.9,269.0 L598.6,271.0 L604.3,269.7 L610.1,274.5 L615.8,275.4 L621.5,278.8 L627.2,280.8 L632.9,284.1 L638.6,286.7 L644.3,289.9 L650.0,288.5 L655.7,290.5 L661.4,291.8 L667.1,291.7 L672.8,292.0 L674.7,290.4 L684.2,292.0 L693.7,294.5 L703.2,295.4 L712.8,297.3 L722.3,298.9 L731.8,300.2 L741.3,301.3 L750.8,302.0 L760.3,303.2 L769.8,304.5 L779.3,305.4 L788.8,306.3 L798.3,307.0 L807.9,307.8 L817.4,308.8 L826.9,309.6 L836.4,310.2 L845.9,310.7 L855.4,311.4 L864.9,312.2 L874.4,313.0 L883.9,313.6 L893.5,314.6 L903.0,315.3 L912.5,316.0 L922.0,316.8 L931.5,317.6 L941.0,318.2" stroke="#c2c2c2" stroke-width="0.9" fill="none" stroke-linejoin="round"/>
<path d="M180.2,252.7 L181.3,252.8 L182.5,249.0 L183.6,237.9 L184.8,234.6 L185.9,236.7 L187.0,235.4 L188.2,220.5 L189.3,217.6 L190.5,211.3 L191.6,189.6 L192.8,187.1 L193.9,199.0 L195.0,203.0 L196.2,196.9 L197.3,193.7 L198.5,200.5 L199.6,162.7 L200.7,164.1 L201.9,177.7 L203.0,169.2 L203.7,177.0 L204.4,188.4 L205.0,152.9 L205.7,121.3 L206.4,140.7 L207.0,123.9 L207.7,118.3 L208.3,142.2 L209.0,142.9 L209.7,142.7 L210.3,123.9 L211.0,138.7 L211.7,152.0 L212.3,162.5 L213.0,166.1 L213.7,161.7 L214.3,128.8 L215.0,124.6 L215.7,137.3 L216.3,116.3 L217.0,97.6 L217.7,111.4 L218.3,112.8 L219.0,128.6 L219.7,145.0 L220.3,111.8 L221.0,92.3 L221.7,106.3 L222.3,100.6 L223.0,113.2 L223.7,134.6 L224.3,138.0 L225.0,161.1 L225.7,181.3 L226.3,160.6 L227.0,168.1 L227.7,165.7 L228.3,132.2 L229.0,127.3 L229.7,155.1 L230.3,139.8 L231.0,137.6 L231.6,140.9 L232.3,164.8 L233.0,148.7 L233.6,129.6 L234.3,144.0 L235.0,157.4 L235.6,146.5 L236.3,143.8 L237.0,152.2 L237.3,131.5 L240.3,132.7 L243.3,120.4 L246.4,119.2 L249.4,128.2 L252.5,131.8 L255.5,135.9 L258.6,135.2 L261.6,136.7 L264.6,140.8 L267.7,150.2 L270.7,152.3 L273.8,150.3 L276.8,143.2 L279.9,147.6 L282.9,149.5 L286.0,164.4 L289.0,168.9 L292.0,172.8 L295.1,160.1 L298.1,155.8 L301.2,155.9 L304.2,145.2 L307.3,131.9 L310.3,144.9 L313.3,148.6 L316.4,138.2 L319.4,124.7 L322.5,107.8 L325.5,109.4 L328.6,127.5 L331.6,138.8 L334.6,147.4 L337.7,139.4 L340.7,139.4 L343.8,155.0 L346.8,159.1 L349.9,152.8 L352.9,148.0 L355.9,154.8 L359.0,172.4 L362.0,173.7 L365.1,178.4 L368.1,186.4 L370.4,189.4 L376.1,183.7 L381.8,190.6 L387.5,198.9 L393.2,190.6 L398.9,180.5 L404.6,188.4 L410.3,186.6 L416.0,198.9 L421.8,200.8 L427.5,200.5 L433.2,214.3 L438.9,223.0 L444.6,222.1 L450.3,227.4 L456.0,223.2 L461.7,221.8 L467.4,232.5 L473.1,226.9 L478.8,232.5 L484.5,238.0 L490.2,240.4 L495.9,239.6 L501.6,242.3 L507.3,232.3 L513.0,241.6 L518.8,235.7 L524.5,227.3 L530.2,223.3 L535.9,228.7 L541.6,235.7 L547.3,242.5 L553.0,243.3 L558.7,249.1 L564.4,256.0 L570.1,264.0 L575.8,270.6 L581.5,276.1 L587.2,277.3 L592.9,278.9 L598.6,279.0 L604.3,278.7 L610.1,279.6 L615.8,278.6 L621.5,277.0 L627.2,277.7 L632.9,278.9 L638.6,282.7 L644.3,286.1 L650.0,289.0 L655.7,289.7 L661.4,291.4 L667.1,292.1 L672.8,292.7 L674.7,292.9 L684.2,293.9 L693.7,294.6 L703.2,296.7 L712.8,297.9 L722.3,299.0 L731.8,300.2 L741.3,301.5 L750.8,302.6 L760.3,304.1 L769.8,305.3 L779.3,305.9 L788.8,306.8 L798.3,308.0 L807.9,308.7 L817.4,309.4 L826.9,310.1 L836.4,310.7 L845.9,311.3 L855.4,312.1 L864.9,312.6 L874.4,313.3 L883.9,314.0 L893.5,314.7 L903.0,315.3 L912.5,316.1 L922.0,316.8 L931.5,317.5 L941.0,318.2" stroke="#c2c2c2" stroke-width="0.9" fill="none" stroke-linejoin="round"/>
<path d="M180.2,246.1 L181.3,236.8 L182.5,234.8 L183.6,244.5 L184.8,237.4 L185.9,219.2 L187.0,218.0 L188.2,225.7 L189.3,227.9 L190.5,217.9 L191.6,215.1 L192.8,229.6 L193.9,224.1 L195.0,209.8 L196.2,202.6 L197.3,197.6 L198.5,180.1 L199.6,158.5 L200.7,171.7 L201.9,181.1 L203.0,165.6 L203.7,169.8 L204.4,188.6 L205.0,183.6 L205.7,188.9 L206.4,194.7 L207.0,140.9 L207.7,141.0 L208.3,157.0 L209.0,147.3 L209.7,161.9 L210.3,136.2 L211.0,122.0 L211.7,151.4 L212.3,172.0 L213.0,164.6 L213.7,144.9 L214.3,158.1 L215.0,142.6 L215.7,134.3 L216.3,145.9 L217.0,151.9 L217.7,163.7 L218.3,148.1 L219.0,132.1 L219.7,133.4 L220.3,133.9 L221.0,93.3 L221.7,79.9 L222.3,82.4 L223.0,121.8 L223.7,151.6 L224.3,122.8 L225.0,135.8 L225.7,146.2 L226.3,141.0 L227.0,128.7 L227.7,123.1 L228.3,154.9 L229.0,119.3 L229.7,122.4 L230.3,167.9 L231.0,160.6 L231.6,157.2 L232.3,177.4 L233.0,160.0 L233.6,134.0 L234.3,151.8 L235.0,146.9 L235.6,148.9 L236.3,161.7 L237.0,130.2 L237.3,128.7 L240.3,151.5 L243.3,158.9 L246.4,153.1 L249.4,160.9 L252.5,151.6 L255.5,129.2 L258.6,128.9 L261.6,152.0 L264.6,150.8 L267.7,139.5 L270.7,133.0 L273.8,133.4 L276.8,130.5 L279.9,134.4 L282.9,146.2 L286.0,125.2 L289.0,127.6 L292.0,137.6 L295.1,135.7 L298.1,130.8 L301.2,140.9 L304.2,151.5 L307.3,159.2 L310.3,155.0 L313.3,152.3 L316.4,157.2 L319.4,165.0 L322.5,145.0 L325.5,139.9 L328.6,151.2 L331.6,157.4 L334.6,148.6 L337.7,161.6 L340.7,171.6 L343.8,181.6 L346.8,199.1 L349.9,190.3 L352.9,188.9 L355.9,187.2 L359.0,178.7 L362.0,183.0 L365.1,171.9 L368.1,173.4 L370.4,164.2 L376.1,175.4 L381.8,190.0 L387.5,201.8 L393.2,207.7 L398.9,215.6 L404.6,216.6 L410.3,220.8 L416.0,223.3 L421.8,211.2 L427.5,216.2 L433.2,221.0 L438.9,220.7 L444.6,226.7 L450.3,232.5 L456.0,229.2 L461.7,236.3 L467.4,237.2 L473.1,239.3 L478.8,242.8 L484.5,234.5 L490.2,232.6 L495.9,238.3 L501.6,243.0 L507.3,241.7 L513.0,244.6 L518.8,250.6 L524.5,258.0 L530.2,253.9 L535.9,252.3 L541.6,253.9 L547.3,264.1 L553.0,259.8 L558.7,263.7 L564.4,268.9 L570.1,274.8 L575.8,280.8 L581.5,286.1 L587.2,284.4 L592.9,285.9 L598.6,284.5 L604.3,282.6 L610.1,282.3 L615.8,281.3 L621.5,277.7 L627.2,276.3 L632.9,278.1 L638.6,278.8 L644.3,277.6 L650.0,280.6 L655.7,284.1 L661.4,287.7 L667.1,288.2 L672.8,289.3 L674.7,289.7 L684.2,294.8 L693.7,296.7 L703.2,298.0 L712.8,298.8 L722.3,301.3 L731.8,302.5 L741.3,303.0 L750.8,303.0 L760.3,303.5 L769.8,304.3 L779.3,304.8 L788.8,305.7 L798.3,306.4 L807.9,307.4 L817.4,308.7 L826.9,309.7 L836.4,310.6 L845.9,311.8 L855.4,312.6 L864.9,313.5 L874.4,314.2 L883.9,314.7 L893.5,315.5 L903.0,316.0 L912.5,316.5 L922.0,317.1 L931.5,317.7 L941.0,318.3" stroke="#c2c2c2" stroke-width="0.9" fill="none" stroke-linejoin="round"/>
<path d="M180.2,260.4 L218.2,142.0 L332.4,142.0 L351.4,162.9 L370.4,180.1 L389.4,193.7 L417.9,212.4 L446.5,225.0 L465.5,231.8 L513.0,249.0 L541.6,254.5 L560.6,259.1 L579.6,267.4 L608.1,276.9 L655.7,288.3 L703.2,296.3 L750.8,302.6 L798.3,307.4 L845.9,311.2 L893.5,315.1 L941.0,318.3" stroke="#fa0308" stroke-width="4.6" fill="none" stroke-linejoin="round"/>
<path d="M180.2,247.4 L182.5,238.2 L183.3,244.0 L184.2,234.4 L185.1,242.0 L185.9,230.5 L186.8,234.8 L187.6,222.8 L188.5,230.1 L189.3,218.1 L190.2,220.8 L191.0,209.8 L191.9,218.9 L192.8,210.2 L193.6,214.5 L194.5,202.3 L195.3,209.2 L196.2,195.8 L197.0,203.9 L197.9,190.8 L198.7,192.1 L199.6,180.2 L200.5,189.0 L201.3,179.0 L202.2,183.0 L203.0,174.2 L203.9,180.6 L204.7,169.9 L205.6,174.3 L206.4,163.8 L207.3,166.3 L208.2,147.2 L208.5,141.4 L209.5,122.4 L210.3,139.9 L211.2,127.6 L212.2,141.4 L213.3,126.1 L214.4,136.8 L215.8,129.1 L216.9,139.9 L218.2,127.6 L219.6,138.4 L221.1,139.9 L223.0,138.4 L224.7,141.4 L226.8,149.1 L228.3,151.3 L230.0,147.6 L232.5,139.9 L235.4,137.7 L241.1,139.9 L248.7,142.7 L258.2,137.4 L270.2,135.9 L275.3,139.9 L280.8,145.1 L291.5,142.0 L303.4,136.8 L315.2,139.6 L327.4,140.5 L335.2,146.3 L343.8,156.2 L352.0,166.0 L360.9,174.6 L367.2,179.8 L370.4,182.2 L376.1,186.3 L381.8,189.8 L387.5,193.0 L393.2,195.8 L398.9,198.5 L404.6,201.7 L410.3,205.3 L416.0,209.5 L421.8,213.3 L427.5,216.8 L433.2,220.4 L438.9,223.6 L444.6,226.3 L450.3,228.2 L456.0,229.4 L461.7,230.4 L467.4,231.4 L473.1,232.7 L478.8,234.4 L484.5,236.8 L490.2,239.6 L495.9,242.7 L501.6,245.8 L507.3,248.7 L513.1,251.1 L518.8,252.1 L524.5,252.5 L530.2,252.6 L535.9,252.6 L541.6,252.9 L547.3,253.8 L553.0,255.2 L558.7,257.2 L564.4,260.3 L570.1,263.9 L575.8,267.3 L581.5,270.1 L587.2,272.0 L592.9,273.4 L598.6,272.9 L604.3,274.9 L610.1,276.8 L615.8,278.6 L621.5,280.4 L627.2,282.1 L632.9,283.7 L638.6,285.1 L644.3,286.4 L650.0,287.5 L655.7,288.5 L661.4,289.0 L667.1,289.6 L672.8,290.4 L678.5,291.2 L684.2,292.3 L689.9,293.5 L695.6,294.9 L701.3,296.2 L707.1,297.4 L712.8,298.4 L718.5,299.2 L724.2,299.9 L729.9,300.4 L735.6,300.7 L741.3,301.1 L747.0,301.5 L752.7,302.8 L758.4,303.3 L764.1,303.9 L769.8,304.5 L775.5,305.1 L781.2,305.6 L786.9,306.2 L792.6,306.8 L798.4,307.4 L804.1,307.8 L809.8,308.3 L815.5,308.7 L821.2,309.2 L826.9,309.7 L832.6,310.1 L838.3,310.6 L844.0,311.0 L849.7,311.5 L855.4,312.0 L861.1,312.4 L866.8,312.9 L872.5,313.3 L878.2,313.8 L883.9,314.3 L889.6,314.7 L895.4,315.2 L901.1,315.6 L906.8,316.0 L912.5,316.3 L918.2,316.7 L923.9,317.1 L929.6,317.5 L935.3,317.9 L941.0,318.3" stroke="#000" stroke-width="3.7" stroke-dasharray="10.5 5" fill="none" stroke-linejoin="round"/>
</g>
<path d="M180.2,338.1 v-8 M180.2,30.8 v8 M275.3,338.1 v-8 M275.3,30.8 v8 M370.4,338.1 v-8 M370.4,30.8 v8 M465.5,338.1 v-8 M465.5,30.8 v8 M560.6,338.1 v-8 M560.6,30.8 v8 M655.7,338.1 v-8 M655.7,30.8 v8 M750.8,338.1 v-8 M750.8,30.8 v8 M845.9,338.1 v-8 M845.9,30.8 v8 M941.0,338.1 v-8 M941.0,30.8 v8 M180.2,338.1 h8 M941.0,338.1 h-8 M180.2,276.6 h8 M941.0,276.6 h-8 M180.2,215.2 h8 M941.0,215.2 h-8 M180.2,153.7 h8 M941.0,153.7 h-8 M180.2,92.3 h8 M941.0,92.3 h-8 M180.2,30.8 h8 M941.0,30.8 h-8" stroke="#222" stroke-width="1.3" fill="none"/>
<rect x="180.2" y="30.8" width="760.8" height="307.3" fill="none" stroke="#222" stroke-width="1.5"/>
<g font-family="Liberation Serif, serif" font-size="28.6" fill="#111">
<text x="180.2" y="365.6" text-anchor="middle">0</text>
<text x="275.3" y="365.6" text-anchor="middle">0.5</text>
<text x="370.4" y="365.6" text-anchor="middle">1</text>
<text x="465.5" y="365.6" text-anchor="middle">1.5</text>
<text x="560.6" y="365.6" text-anchor="middle">2</text>
<text x="655.7" y="365.6" text-anchor="middle">2.5</text>
<text x="750.8" y="365.6" text-anchor="middle">3</text>
<text x="845.9" y="365.6" text-anchor="middle">3.5</text>
<text x="941.0" y="365.6" text-anchor="middle">4</text>
<text x="175.2" y="347.4" text-anchor="end">0</text>
<text x="175.2" y="285.9" text-anchor="end">2</text>
<text x="175.2" y="224.5" text-anchor="end">4</text>
<text x="175.2" y="163.0" text-anchor="end">6</text>
<text x="175.2" y="101.6" text-anchor="end">8</text>
<text x="175.2" y="40.1" text-anchor="end">10</text>
<text x="559.7" y="392.7" text-anchor="middle" font-size="28.1">Vibration period [s]</text>
<text transform="translate(133.3,339.2) rotate(-90)" font-size="27.95">Spectral acceleration [m/s<tspan dy="-13" font-size="20">2</tspan><tspan dy="13">]</tspan></text>
</g>
</g>
<g id="c2" filter="url(#b2)">
<rect x="119.5" y="415.5" width="376.5" height="312.5" fill="#fdfdfd" opacity="0.8"/>
<rect x="163.0" y="425.3" width="319.4" height="249.9" fill="#fff"/>
<clipPath id="cp2"><rect x="163.0" y="424.3" width="319.4" height="250.9"/></clipPath>
<path d="M187.0,425.3 V675.2 M201.1,425.3 V675.2 M211.1,425.3 V675.2 M218.8,425.3 V675.2 M225.1,425.3 V675.2 M230.5,425.3 V675.2 M235.1,425.3 V675.2 M239.2,425.3 V675.2 M242.8,425.3 V675.2 M266.9,425.3 V675.2 M280.9,425.3 V675.2 M290.9,425.3 V675.2 M298.7,425.3 V675.2 M305.0,425.3 V675.2 M310.3,425.3 V675.2 M315.0,425.3 V675.2 M319.0,425.3 V675.2 M322.7,425.3 V675.2 M346.7,425.3 V675.2 M360.8,425.3 V675.2 M370.8,425.3 V675.2 M378.5,425.3 V675.2 M384.8,425.3 V675.2 M390.2,425.3 V675.2 M394.8,425.3 V675.2 M398.9,425.3 V675.2 M402.5,425.3 V675.2 M426.6,425.3 V675.2 M440.6,425.3 V675.2 M450.6,425.3 V675.2 M458.4,425.3 V675.2 M464.7,425.3 V675.2 M470.0,425.3 V675.2 M474.7,425.3 V675.2 M478.7,425.3 V675.2 M163.0,659.4 H482.4 M163.0,650.6 H482.4 M163.0,644.3 H482.4 M163.0,639.5 H482.4 M163.0,635.6 H482.4 M163.0,632.2 H482.4 M163.0,629.3 H482.4 M163.0,626.8 H482.4 M163.0,624.5 H482.4 M163.0,609.5 H482.4 M163.0,600.7 H482.4 M163.0,594.4 H482.4 M163.0,589.6 H482.4 M163.0,585.6 H482.4 M163.0,582.3 H482.4 M163.0,579.4 H482.4 M163.0,576.8 H482.4 M163.0,574.6 H482.4 M163.0,559.5 H482.4 M163.0,550.7 H482.4 M163.0,544.5 H482.4 M163.0,539.7 H482.4 M163.0,535.7 H482.4 M163.0,532.4 H482.4 M163.0,529.5 H482.4 M163.0,526.9 H482.4 M163.0,524.6 H482.4 M163.0,509.6 H482.4 M163.0,500.8 H482.4 M163.0,494.6 H482.4 M163.0,489.7 H482.4 M163.0,485.8 H482.4 M163.0,482.5 H482.4 M163.0,479.6 H482.4 M163.0,477.0 H482.4 M163.0,474.7 H482.4 M163.0,459.7 H482.4 M163.0,450.9 H482.4 M163.0,444.7 H482.4 M163.0,439.8 H482.4 M163.0,435.9 H482.4 M163.0,432.5 H482.4 M163.0,429.6 H482.4 M163.0,427.1 H482.4" stroke="#555" stroke-width="0.8" stroke-dasharray="1.6 1.6" fill="none"/>
<g clip-path="url(#cp2)" fill="none" stroke-linejoin="round">
<path d="M163.0,424.8 L164.3,424.8 L165.6,424.8 L166.8,424.8 L168.1,424.8 L169.4,424.8 L170.7,424.8 L171.9,424.8 L173.2,424.8 L174.5,424.8 L175.8,424.8 L177.0,424.8 L178.3,424.8 L179.6,424.8 L180.9,424.8 L182.1,424.8 L183.4,424.8 L184.7,424.8 L186.0,424.8 L187.2,424.8 L188.5,424.8 L189.8,424.8 L191.1,424.8 L192.4,424.8 L193.6,424.8 L194.9,424.8 L196.2,424.8 L197.5,424.8 L198.7,424.8 L200.0,424.8 L201.3,424.8 L202.6,424.8 L203.8,424.8 L205.1,424.8 L206.4,424.8 L207.7,424.9 L208.9,424.9 L210.2,424.9 L211.5,424.9 L212.8,424.9 L214.0,424.9 L215.3,424.9 L216.6,424.9 L217.9,425.0 L219.2,425.0 L220.4,425.0 L221.7,425.0 L223.0,425.1 L224.3,425.1 L225.5,425.1 L226.8,425.2 L228.1,425.2 L229.4,425.3 L230.6,425.3 L231.9,425.4 L233.2,425.4 L234.5,425.5 L235.7,425.6 L237.0,425.6 L238.3,425.7 L239.6,425.8 L240.8,425.9 L242.1,426.0 L243.4,426.1 L244.7,426.3 L245.9,426.4 L247.2,426.5 L248.5,426.7 L249.8,426.9 L251.1,427.0 L252.3,427.2 L253.6,427.4 L254.9,427.6 L256.2,427.8 L257.4,428.1 L258.7,428.3 L260.0,428.6 L261.3,428.8 L262.5,429.1 L263.8,429.4 L265.1,429.7 L266.4,430.0 L267.6,430.4 L268.9,430.7 L270.2,431.1 L271.5,431.5 L272.7,431.9 L274.0,432.3 L275.3,432.7 L276.6,433.2 L277.9,433.6 L279.1,434.1 L280.4,434.6 L281.7,435.1 L283.0,435.6 L284.2,436.2 L285.5,436.7 L286.8,437.3 L288.1,437.9 L289.3,438.5 L290.6,439.1 L291.9,439.8 L293.2,440.4 L294.4,441.1 L295.7,441.8 L297.0,442.5 L298.3,443.2 L299.5,443.9 L300.8,444.7 L302.1,445.4 L303.4,446.2 L304.7,447.0 L305.9,447.8 L307.2,448.7 L308.5,449.5 L309.8,450.4 L311.0,451.3 L312.3,452.2 L313.6,453.2 L314.9,454.1 L316.1,455.1 L317.4,456.1 L318.7,457.1 L320.0,458.2 L321.2,459.2 L322.5,460.3 L323.8,461.4 L325.1,462.5 L326.3,463.7 L327.6,464.9 L328.9,466.1 L330.2,467.3 L331.5,468.6 L332.7,469.8 L334.0,471.1 L335.3,472.5 L336.6,473.8 L337.8,475.2 L339.1,476.6 L340.4,478.1 L341.7,479.5 L342.9,481.0 L344.2,482.6 L345.5,484.1 L346.8,485.7 L348.0,487.3 L349.3,489.0 L350.6,490.6 L351.9,492.3 L353.1,494.1 L354.4,495.9 L355.7,497.7 L357.0,499.5 L358.2,501.4 L359.5,503.3 L360.8,505.2 L362.1,507.2 L363.4,509.2 L364.6,511.2 L365.9,513.3 L367.2,515.4 L368.5,517.5 L369.7,519.7 L371.0,521.9 L372.3,524.2 L373.6,526.5 L374.8,528.8 L376.1,531.2 L377.4,533.6 L378.7,536.0 L379.9,538.5 L381.2,540.9 L382.5,543.4 L383.8,546.0 L385.0,548.5 L386.3,551.1 L387.6,553.7 L388.9,556.4 L390.2,559.0 L391.4,561.7 L392.7,564.4 L394.0,567.1 L395.3,569.8 L396.5,572.5 L397.8,575.2 L399.1,578.0 L400.4,580.7 L401.6,583.5 L402.9,586.3 L404.2,589.1 L405.5,591.9 L406.7,594.7 L408.0,597.5 L409.3,600.4 L410.6,603.4 L411.8,606.4 L413.1,609.5 L414.4,612.7 L415.7,616.0 L417.0,619.3 L418.2,622.8 L419.5,626.5 L420.8,630.2 L422.1,634.1 L423.3,638.1 L424.6,642.1 L425.9,646.3 L427.2,650.4 L428.4,654.6 L429.7,658.8 L431.0,663.0 L432.3,667.2 L433.5,671.5 L434.8,675.7 L436.1,680.0 L437.4,684.3 L438.6,688.7 L439.9,693.0 L441.2,697.4 L442.5,701.8" stroke="#00f" stroke-width="2.3"/>
<path d="M163.0,425.0 L164.3,425.0 L165.6,425.0 L166.8,425.0 L168.1,425.1 L169.4,425.1 L170.7,425.1 L171.9,425.1 L173.2,425.1 L174.5,425.2 L175.8,425.2 L177.0,425.2 L178.3,425.3 L179.6,425.3 L180.9,425.3 L182.1,425.4 L183.4,425.4 L184.7,425.4 L186.0,425.5 L187.2,425.5 L188.5,425.6 L189.8,425.6 L191.1,425.7 L192.4,425.8 L193.6,425.8 L194.9,425.9 L196.2,426.0 L197.5,426.1 L198.7,426.1 L200.0,426.2 L201.3,426.3 L202.6,426.4 L203.8,426.5 L205.1,426.6 L206.4,426.7 L207.7,426.9 L208.9,427.0 L210.2,427.1 L211.5,427.3 L212.8,427.4 L214.0,427.6 L215.3,427.7 L216.6,427.9 L217.9,428.0 L219.2,428.2 L220.4,428.4 L221.7,428.6 L223.0,428.8 L224.3,429.0 L225.5,429.2 L226.8,429.5 L228.1,429.7 L229.4,430.0 L230.6,430.2 L231.9,430.5 L233.2,430.8 L234.5,431.0 L235.7,431.3 L237.0,431.6 L238.3,432.0 L239.6,432.3 L240.8,432.6 L242.1,433.0 L243.4,433.3 L244.7,433.7 L245.9,434.1 L247.2,434.4 L248.5,434.8 L249.8,435.3 L251.1,435.7 L252.3,436.1 L253.6,436.6 L254.9,437.0 L256.2,437.5 L257.4,438.0 L258.7,438.5 L260.0,439.0 L261.3,439.5 L262.5,440.0 L263.8,440.5 L265.1,441.1 L266.4,441.7 L267.6,442.2 L268.9,442.8 L270.2,443.4 L271.5,444.0 L272.7,444.7 L274.0,445.3 L275.3,445.9 L276.6,446.6 L277.9,447.3 L279.1,448.0 L280.4,448.7 L281.7,449.4 L283.0,450.1 L284.2,450.8 L285.5,451.6 L286.8,452.3 L288.1,453.1 L289.3,453.9 L290.6,454.7 L291.9,455.5 L293.2,456.3 L294.4,457.1 L295.7,457.9 L297.0,458.8 L298.3,459.7 L299.5,460.5 L300.8,461.4 L302.1,462.3 L303.4,463.2 L304.7,464.2 L305.9,465.1 L307.2,466.0 L308.5,467.0 L309.8,468.0 L311.0,469.0 L312.3,470.0 L313.6,471.1 L314.9,472.1 L316.1,473.2 L317.4,474.3 L318.7,475.4 L320.0,476.5 L321.2,477.6 L322.5,478.8 L323.8,480.0 L325.1,481.2 L326.3,482.4 L327.6,483.7 L328.9,484.9 L330.2,486.2 L331.5,487.5 L332.7,488.8 L334.0,490.2 L335.3,491.6 L336.6,493.0 L337.8,494.4 L339.1,495.9 L340.4,497.4 L341.7,498.9 L342.9,500.4 L344.2,502.0 L345.5,503.5 L346.8,505.2 L348.0,506.8 L349.3,508.5 L350.6,510.2 L351.9,511.9 L353.1,513.7 L354.4,515.5 L355.7,517.3 L357.0,519.1 L358.2,521.0 L359.5,522.9 L360.8,524.9 L362.1,526.9 L363.4,528.9 L364.6,530.9 L365.9,533.0 L367.2,535.2 L368.5,537.3 L369.7,539.5 L371.0,541.7 L372.3,544.0 L373.6,546.3 L374.8,548.6 L376.1,551.0 L377.4,553.4 L378.7,555.8 L379.9,558.3 L381.2,560.8 L382.5,563.3 L383.8,565.8 L385.0,568.4 L386.3,571.0 L387.6,573.6 L388.9,576.2 L390.2,578.9 L391.4,581.5 L392.7,584.2 L394.0,586.9 L395.3,589.6 L396.5,592.4 L397.8,595.1 L399.1,597.8 L400.4,600.6 L401.6,603.4 L402.9,606.1 L404.2,608.9 L405.5,611.7 L406.7,614.5 L408.0,617.4 L409.3,620.3 L410.6,623.2 L411.8,626.3 L413.1,629.4 L414.4,632.5 L415.7,635.8 L417.0,639.2 L418.2,642.7 L419.5,646.3 L420.8,650.1 L422.1,654.0 L423.3,658.0 L424.6,662.0 L425.9,666.1 L427.2,670.3 L428.4,674.5 L429.7,678.7 L431.0,682.9 L432.3,687.1 L433.5,691.3 L434.8,695.6 L436.1,699.9 L437.4,704.2 L438.6,708.5 L439.9,712.9 L441.2,717.3 L442.5,721.7" stroke="#f00" stroke-width="2.3"/>
<path d="M163.0,458.4 L164.3,458.7 L165.6,459.0 L166.8,459.4 L168.1,459.7 L169.4,460.0 L170.7,460.3 L171.9,460.7 L173.2,461.0 L174.5,461.4 L175.8,461.7 L177.0,462.1 L178.3,462.4 L179.6,462.8 L180.9,463.2 L182.1,463.5 L183.4,463.9 L184.7,464.3 L186.0,464.7 L187.2,465.1 L188.5,465.5 L189.8,465.9 L191.1,466.3 L192.4,466.7 L193.6,467.1 L194.9,467.5 L196.2,468.0 L197.5,468.4 L198.7,468.8 L200.0,469.3 L201.3,469.7 L202.6,470.2 L203.8,470.6 L205.1,471.1 L206.4,471.6 L207.7,472.1 L208.9,472.5 L210.2,473.0 L211.5,473.5 L212.8,474.0 L214.0,474.5 L215.3,475.0 L216.6,475.6 L217.9,476.1 L219.2,476.6 L220.4,477.1 L221.7,477.7 L223.0,478.2 L224.3,478.8 L225.5,479.3 L226.8,479.9 L228.1,480.5 L229.4,481.1 L230.6,481.6 L231.9,482.2 L233.2,482.8 L234.5,483.4 L235.7,484.0 L237.0,484.6 L238.3,485.3 L239.6,485.9 L240.8,486.5 L242.1,487.2 L243.4,487.8 L244.7,488.5 L245.9,489.1 L247.2,489.8 L248.5,490.5 L249.8,491.1 L251.1,491.8 L252.3,492.5 L253.6,493.2 L254.9,493.9 L256.2,494.6 L257.4,495.4 L258.7,496.1 L260.0,496.8 L261.3,497.6 L262.5,498.3 L263.8,499.1 L265.1,499.8 L266.4,500.6 L267.6,501.4 L268.9,502.2 L270.2,503.0 L271.5,503.8 L272.7,504.6 L274.0,505.4 L275.3,506.2 L276.6,507.0 L277.9,507.9 L279.1,508.7 L280.4,509.6 L281.7,510.4 L283.0,511.3 L284.2,512.2 L285.5,513.1 L286.8,514.0 L288.1,514.9 L289.3,515.8 L290.6,516.7 L291.9,517.6 L293.2,518.5 L294.4,519.5 L295.7,520.4 L297.0,521.4 L298.3,522.3 L299.5,523.3 L300.8,524.3 L302.1,525.3 L303.4,526.3 L304.7,527.3 L305.9,528.3 L307.2,529.4 L308.5,530.4 L309.8,531.5 L311.0,532.5 L312.3,533.6 L313.6,534.7 L314.9,535.8 L316.1,537.0 L317.4,538.1 L318.7,539.3 L320.0,540.5 L321.2,541.6 L322.5,542.9 L323.8,544.1 L325.1,545.3 L326.3,546.6 L327.6,547.9 L328.9,549.2 L330.2,550.5 L331.5,551.9 L332.7,553.2 L334.0,554.6 L335.3,556.1 L336.6,557.5 L337.8,558.9 L339.1,560.4 L340.4,561.9 L341.7,563.5 L342.9,565.0 L344.2,566.6 L345.5,568.2 L346.8,569.9 L348.0,571.5 L349.3,573.2 L350.6,574.9 L351.9,576.7 L353.1,578.5 L354.4,580.3 L355.7,582.1 L357.0,584.0 L358.2,585.9 L359.5,587.8 L360.8,589.7 L362.1,591.7 L363.4,593.8 L364.6,595.8 L365.9,597.9 L367.2,600.0 L368.5,602.2 L369.7,604.4 L371.0,606.6 L372.3,608.9 L373.6,611.2 L374.8,613.5 L376.1,615.9 L377.4,618.3 L378.7,620.7 L379.9,623.2 L381.2,625.7 L382.5,628.2 L383.8,630.8 L385.0,633.3 L386.3,635.9 L387.6,638.5 L388.9,641.2 L390.2,643.8 L391.4,646.5 L392.7,649.2 L394.0,651.9 L395.3,654.6 L396.5,657.3 L397.8,660.0 L399.1,662.8 L400.4,665.5 L401.6,668.3 L402.9,671.1 L404.2,673.9 L405.5,676.7 L406.7,679.5 L408.0,682.3 L409.3,685.2 L410.6,688.2 L411.8,691.2 L413.1,694.3 L414.4,697.5 L415.7,700.8 L417.0,704.1 L418.2,707.7 L419.5,711.3 L420.8,715.0 L422.1,718.9 L423.3,722.9 L424.6,727.0 L425.9,731.1 L427.2,735.2 L428.4,739.4 L429.7,743.6 L431.0,747.8 L432.3,752.0 L433.5,756.3 L434.8,760.6 L436.1,764.8 L437.4,769.1 L438.6,773.5 L439.9,777.8 L441.2,782.2 L442.5,786.6" stroke="#000" stroke-width="2.3"/>
</g>
<path d="M163.0,474.7 H317.1 V675.2" stroke="#f44" stroke-width="1.4" fill="none"/>
<path d="M317.1,474.7 H335.9 V675.2" stroke="#44f" stroke-width="1.2" fill="none"/>
<rect x="163.0" y="425.3" width="319.4" height="249.9" fill="none" stroke="#444" stroke-width="1"/>
<rect x="423" y="431" width="57.2" height="44.8" fill="#fff" stroke="#777" stroke-width="0.8"/>
<rect x="421.2" y="429" width="57.2" height="44.8" fill="#fff" stroke="#444" stroke-width="0.9"/>
<path d="M425.8,437.3 H447.8" stroke="#00f" stroke-width="2.2"/>
<path d="M425.8,451.0 H447.8" stroke="#f00" stroke-width="2.2"/>
<path d="M425.8,464.6 H447.8" stroke="#000" stroke-width="2.2"/>
<g font-family="Liberation Serif, serif" font-size="12" fill="#111" stroke="#111" stroke-width="0.3">
<text x="450.4" y="441.8">50 év</text>
<text x="450.4" y="455.5">20 év</text>
<text x="450.4" y="469.1">1 év</text>
</g>
<g font-family="Liberation Serif, serif" font-size="12.3" fill="#111" stroke="#111" stroke-width="0.3">
<text x="163.3" y="691.2" text-anchor="middle">10<tspan dy="-7" font-size="8.5">-2</tspan></text>
<text x="243.2" y="691.2" text-anchor="middle">10<tspan dy="-7" font-size="8.5">-1</tspan></text>
<text x="323.0" y="691.2" text-anchor="middle">10<tspan dy="-7" font-size="8.5">0</tspan></text>
<text x="402.8" y="691.2" text-anchor="middle">10<tspan dy="-7" font-size="8.5">1</tspan></text>
<text x="482.7" y="691.2" text-anchor="middle">10<tspan dy="-7" font-size="8.5">2</tspan></text>
<text x="142.9" y="627.7">10<tspan dy="-7" font-size="8.5">-4</tspan></text>
<text x="142.9" y="577.8">10<tspan dy="-7" font-size="8.5">-3</tspan></text>
<text x="142.9" y="527.8">10<tspan dy="-7" font-size="8.5">-2</tspan></text>
<text x="142.9" y="477.9">10<tspan dy="-7" font-size="8.5">-1</tspan></text>
<text x="142.9" y="428.0">10<tspan dy="-7" font-size="8.5">0</tspan></text>
</g>
<g font-family="Liberation Serif, serif" font-size="14.8" fill="#111" stroke="#111" stroke-width="0.3">
<text x="321.6" y="720.8" text-anchor="middle">Max. talajgyorsulás (m/s<tspan dy="-6.5" font-size="11">2</tspan><tspan dy="6.5">)</tspan></text>
<text transform="translate(133.2,549.7) rotate(-90)" text-anchor="middle" font-size="15.4">Túllépési valószínűség</text>
</g>
</g>
<g id="c3" filter="url(#b2)">
<path d="M645.5,432.2 V681.0 M731.5,432.2 V681.0 M817.4,432.2 V681.0 M559.6,649.9 H903.3 M559.6,618.8 H903.3 M559.6,587.7 H903.3 M559.6,556.6 H903.3 M559.6,525.5 H903.3 M559.6,494.4 H903.3 M559.6,463.3 H903.3" stroke="#555" stroke-width="1.4" stroke-dasharray="1.5 1.85" fill="none"/>
<clipPath id="cp3"><rect x="559.6" y="432.2" width="343.7" height="248.8"/></clipPath>
<g clip-path="url(#cp3)" fill="none" stroke-linejoin="round">
<path d="M559.6,587.7 L560.5,583.0 L561.3,578.4 L562.2,573.7 L563.0,569.0 L563.9,564.4 L564.8,559.7 L565.6,555.0 L566.5,550.4 L567.3,545.7 L568.2,541.0 L569.1,536.4 L569.9,531.7 L570.8,527.1 L571.6,522.4 L572.5,517.7 L573.3,513.1 L574.2,508.4 L575.1,503.7 L575.9,499.1 L576.8,494.4 L577.6,489.7 L578.5,485.1 L579.4,480.4 L580.2,475.7 L581.1,471.1 L581.9,466.4 L582.8,461.7 L583.7,457.1 L584.5,452.4 L585.4,447.8 L586.2,447.8 L587.1,447.8 L588.0,447.8 L588.8,447.8 L589.7,447.8 L590.5,447.8 L591.4,447.8 L592.3,447.8 L593.1,447.8 L594.0,447.8 L594.8,447.8 L595.7,447.8 L596.5,447.8 L597.4,447.8 L598.3,447.8 L599.1,447.8 L600.0,447.8 L600.8,447.8 L601.7,447.8 L602.6,447.8 L603.4,447.8 L604.3,447.8 L605.1,447.8 L606.0,447.8 L606.9,447.8 L607.7,447.8 L608.6,447.8 L609.4,447.8 L610.3,447.8 L611.2,447.8 L612.0,447.8 L612.9,447.8 L613.7,447.8 L614.6,447.8 L615.5,447.8 L616.3,447.8 L617.2,447.8 L618.0,447.8 L618.9,447.8 L619.7,447.8 L620.6,447.8 L621.5,447.8 L622.3,447.8 L623.2,447.8 L624.0,447.8 L624.9,447.8 L625.8,447.8 L626.6,447.8 L627.5,447.8 L628.3,447.8 L629.2,450.6 L630.1,453.4 L630.9,456.2 L631.8,458.9 L632.6,461.5 L633.5,464.0 L634.4,466.5 L635.2,469.0 L636.1,471.3 L636.9,473.7 L637.8,475.9 L638.7,478.2 L639.5,480.4 L640.4,482.5 L641.2,484.6 L642.1,486.6 L642.9,488.6 L643.8,490.6 L644.7,492.5 L645.5,494.4 L646.4,496.2 L647.2,498.1 L648.1,499.8 L649.0,501.6 L649.8,503.3 L650.7,505.0 L651.5,506.6 L652.4,508.2 L653.3,509.8 L654.1,511.4 L655.0,512.9 L655.8,514.4 L656.7,515.9 L657.6,517.3 L658.4,518.7 L659.3,520.1 L660.1,521.5 L661.0,522.9 L661.9,524.2 L662.7,525.5 L663.6,526.8 L664.4,528.0 L665.3,529.3 L666.1,530.5 L667.0,531.7 L667.9,532.9 L668.7,534.1 L669.6,535.2 L670.4,536.3 L671.3,537.5 L672.2,538.6 L673.0,539.6 L673.9,540.7 L674.7,541.7 L675.6,542.8 L676.5,543.8 L677.3,544.8 L678.2,545.8 L679.0,546.8 L679.9,547.7 L680.8,548.7 L681.6,549.6 L682.5,550.5 L683.3,551.4 L684.2,552.3 L685.1,553.2 L685.9,554.1 L686.8,554.9 L687.6,555.8 L688.5,556.6 L689.3,557.4 L690.2,558.2 L691.1,559.0 L691.9,559.8 L692.8,560.6 L693.6,561.4 L694.5,562.1 L695.4,562.9 L696.2,563.6 L697.1,564.4 L697.9,565.1 L698.8,565.8 L699.7,566.5 L700.5,567.2 L701.4,567.9 L702.2,568.6 L703.1,569.3 L704.0,569.9 L704.8,570.6 L705.7,571.2 L706.5,571.9 L707.4,572.5 L708.3,573.1 L709.1,573.8 L710.0,574.4 L710.8,575.0 L711.7,575.6 L712.5,576.2 L713.4,576.8 L714.3,577.3 L715.1,577.9 L716.0,578.5 L716.8,579.0 L717.7,579.6 L718.6,580.1 L719.4,580.7 L720.3,581.2 L721.1,581.7 L722.0,582.3 L722.9,582.8 L723.7,583.3 L724.6,583.8 L725.4,584.3 L726.3,584.8 L727.2,585.3 L728.0,585.8 L728.9,586.3 L729.7,586.8 L730.6,587.2 L731.5,587.7 L732.3,588.2 L733.2,588.6 L734.0,589.1 L734.9,589.5 L735.7,590.0 L736.6,590.4 L737.5,590.9 L738.3,591.3 L739.2,591.7 L740.0,592.1 L740.9,592.6 L741.8,593.0 L742.6,593.4 L743.5,593.8 L744.3,594.2 L745.2,594.6 L746.1,595.0 L746.9,595.4 L747.8,595.8 L748.6,596.2 L749.5,596.6 L750.4,596.9 L751.2,597.3 L752.1,597.7 L752.9,598.1 L753.8,598.4 L754.6,598.8 L755.5,599.2 L756.4,599.5 L757.2,599.9 L758.1,600.2 L758.9,600.6 L759.8,600.9 L760.7,601.3 L761.5,601.6 L762.4,601.9 L763.2,602.3 L764.1,602.6 L765.0,602.9 L765.8,603.2 L766.7,603.6 L767.5,603.9 L768.4,604.2 L769.3,604.5 L770.1,604.8 L771.0,605.1 L771.8,605.5 L772.7,605.8 L773.6,606.1 L774.4,606.4 L775.3,606.7 L776.1,607.0 L777.0,607.2 L777.8,607.5 L778.7,607.8 L779.6,608.1 L780.4,608.4 L781.3,608.7 L782.1,609.0 L783.0,609.2 L783.9,609.5 L784.7,609.8 L785.6,610.0 L786.4,610.3 L787.3,610.6 L788.2,610.8 L789.0,611.1 L789.9,611.4 L790.7,611.6 L791.6,611.9 L792.5,612.1 L793.3,612.4 L794.2,612.6 L795.0,612.9 L795.9,613.1 L796.8,613.4 L797.6,613.6 L798.5,613.9 L799.3,614.1 L800.2,614.4 L801.0,614.6 L801.9,614.8 L802.8,615.1 L803.6,615.3 L804.5,615.5 L805.3,615.8 L806.2,616.0 L807.1,616.2 L807.9,616.4 L808.8,616.7 L809.6,616.9 L810.5,617.1 L811.4,617.3 L812.2,617.5 L813.1,617.7 L813.9,618.0 L814.8,618.2 L815.7,618.4 L816.5,618.6 L817.4,618.8 L818.2,619.0 L819.1,619.2 L820.0,619.4 L820.8,619.6 L821.7,619.8 L822.5,620.0 L823.4,620.2 L824.2,620.4 L825.1,620.6 L826.0,620.8 L826.8,621.0 L827.7,621.2 L828.5,621.4 L829.4,621.6 L830.3,621.8 L831.1,621.9 L832.0,622.1 L832.8,622.3 L833.7,622.5 L834.6,622.7 L835.4,622.9 L836.3,623.0 L837.1,623.2 L838.0,623.4 L838.9,623.6 L839.7,623.8 L840.6,623.9 L841.4,624.1 L842.3,624.3 L843.2,624.5 L844.0,624.6 L844.9,624.8 L845.7,625.0 L846.6,625.1 L847.4,625.3 L848.3,625.5 L849.2,625.6 L850.0,625.8 L850.9,626.0 L851.7,626.1 L852.6,626.3 L853.5,626.4 L854.3,626.6 L855.2,626.8 L856.0,626.9 L856.9,627.1 L857.8,627.2 L858.6,627.4 L859.5,627.5 L860.3,627.7 L861.2,627.8 L862.1,628.0 L862.9,628.1 L863.8,628.3 L864.6,628.4 L865.5,628.6 L866.4,628.7 L867.2,628.9 L868.1,629.0 L868.9,629.2 L869.8,629.3 L870.6,629.5 L871.5,629.6 L872.4,629.7 L873.2,629.9 L874.1,630.0 L874.9,630.2 L875.8,630.3 L876.7,630.4 L877.5,630.6 L878.4,630.7 L879.2,630.8 L880.1,631.0 L881.0,631.1 L881.8,631.2 L882.7,631.4 L883.5,631.5 L884.4,631.6 L885.3,631.8 L886.1,631.9 L887.0,632.0 L887.8,632.2 L888.7,632.3 L889.6,632.4 L890.4,632.5 L891.3,632.7 L892.1,632.8 L893.0,632.9 L893.8,633.0 L894.7,633.2 L895.6,633.3 L896.4,633.4 L897.3,633.5 L898.1,633.6 L899.0,633.8 L899.9,633.9 L900.7,634.0 L901.6,634.1 L902.4,634.2 L903.3,634.4" stroke="#f00" stroke-width="1.6" stroke-dasharray="3.1 1.6"/>
<path d="M559.6,587.7 L560.5,573.7 L561.3,559.7 L562.2,545.7 L563.0,531.7 L563.9,517.7 L564.8,503.7 L565.6,489.7 L566.5,475.7 L567.3,461.7 L568.2,447.8 L569.1,447.8 L569.9,447.8 L570.8,447.8 L571.6,447.8 L572.5,447.8 L573.3,447.8 L574.2,447.8 L575.1,447.8 L575.9,447.8 L576.8,447.8 L577.6,447.8 L578.5,447.8 L579.4,447.8 L580.2,447.8 L581.1,447.8 L581.9,447.8 L582.8,447.8 L583.7,447.8 L584.5,447.8 L585.4,447.8 L586.2,447.8 L587.1,447.8 L588.0,447.8 L588.8,447.8 L589.7,447.8 L590.5,447.8 L591.4,447.8 L592.3,447.8 L593.1,447.8 L594.0,447.8 L594.8,447.8 L595.7,447.8 L596.5,447.8 L597.4,447.8 L598.3,447.8 L599.1,447.8 L600.0,447.8 L600.8,447.8 L601.7,447.8 L602.6,447.8 L603.4,452.3 L604.3,456.7 L605.1,461.0 L606.0,465.0 L606.9,469.0 L607.7,472.7 L608.6,476.4 L609.4,479.9 L610.3,483.3 L611.2,486.6 L612.0,489.8 L612.9,492.9 L613.7,495.9 L614.6,498.8 L615.5,501.6 L616.3,504.3 L617.2,506.9 L618.0,509.5 L618.9,512.0 L619.7,514.4 L620.6,516.7 L621.5,519.0 L622.3,521.2 L623.2,523.4 L624.0,525.5 L624.9,527.5 L625.8,529.5 L626.6,531.5 L627.5,533.4 L628.3,535.2 L629.2,537.0 L630.1,538.8 L630.9,540.5 L631.8,542.2 L632.6,543.8 L633.5,545.4 L634.4,546.9 L635.2,548.5 L636.1,550.0 L636.9,551.4 L637.8,552.8 L638.7,554.2 L639.5,555.6 L640.4,556.9 L641.2,558.2 L642.1,559.5 L642.9,560.8 L643.8,562.0 L644.7,563.2 L645.5,564.4 L646.4,565.5 L647.2,566.7 L648.1,567.8 L649.0,568.9 L649.8,569.9 L650.7,571.0 L651.5,572.0 L652.4,573.0 L653.3,574.0 L654.1,575.0 L655.0,575.9 L655.8,576.9 L656.7,577.8 L657.6,578.7 L658.4,579.6 L659.3,580.5 L660.1,581.3 L661.0,582.2 L661.9,583.0 L662.7,583.8 L663.6,584.6 L664.4,585.4 L665.3,586.2 L666.1,586.9 L667.0,587.7 L667.9,588.4 L668.7,589.2 L669.6,589.9 L670.4,590.6 L671.3,591.3 L672.2,592.0 L673.0,592.6 L673.9,593.3 L674.7,594.0 L675.6,594.6 L676.5,595.2 L677.3,595.9 L678.2,596.5 L679.0,597.1 L679.9,597.7 L680.8,598.3 L681.6,598.9 L682.5,599.4 L683.3,600.0 L684.2,600.6 L685.1,601.1 L685.9,601.7 L686.8,602.2 L687.6,602.7 L688.5,603.2 L689.3,603.8 L690.2,604.3 L691.1,604.8 L691.9,605.3 L692.8,605.8 L693.6,606.2 L694.5,606.7 L695.4,607.2 L696.2,607.7 L697.1,608.1 L697.9,608.6 L698.8,609.0 L699.7,609.5 L700.5,609.9 L701.4,610.3 L702.2,610.7 L703.1,611.2 L704.0,611.6 L704.8,612.0 L705.7,612.4 L706.5,612.8 L707.4,613.2 L708.3,613.6 L709.1,614.0 L710.0,614.4 L710.8,614.7 L711.7,615.1 L712.5,615.5 L713.4,615.8 L714.3,616.2 L715.1,616.6 L716.0,616.9 L716.8,617.3 L717.7,617.6 L718.6,618.0 L719.4,618.3 L720.3,618.6 L721.1,619.0 L722.0,619.3 L722.9,619.6 L723.7,619.9 L724.6,620.3 L725.4,620.6 L726.3,620.9 L727.2,621.2 L728.0,621.5 L728.9,621.8 L729.7,622.1 L730.6,622.4 L731.5,622.7 L732.3,623.0 L733.2,623.3 L734.0,623.5 L734.9,623.8 L735.7,624.1 L736.6,624.4 L737.5,624.7 L738.3,624.9 L739.2,625.2 L740.0,625.5 L740.9,625.7 L741.8,626.0 L742.6,626.2 L743.5,626.5 L744.3,626.8 L745.2,627.0 L746.1,627.3 L746.9,627.5 L747.8,627.7 L748.6,628.0 L749.5,628.2 L750.4,628.5 L751.2,628.7 L752.1,628.9 L752.9,629.2 L753.8,629.4 L754.6,629.6 L755.5,629.8 L756.4,630.1 L757.2,630.3 L758.1,630.5 L758.9,630.7 L759.8,630.9 L760.7,631.2 L761.5,631.4 L762.4,631.6 L763.2,631.8 L764.1,632.0 L765.0,632.2 L765.8,632.4 L766.7,632.8 L767.5,633.2 L768.4,633.6 L769.3,634.0 L770.1,634.4 L771.0,634.7 L771.8,635.1 L772.7,635.5 L773.6,635.9 L774.4,636.2 L775.3,636.6 L776.1,636.9 L777.0,637.3 L777.8,637.6 L778.7,638.0 L779.6,638.3 L780.4,638.6 L781.3,639.0 L782.1,639.3 L783.0,639.6 L783.9,639.9 L784.7,640.2 L785.6,640.5 L786.4,640.8 L787.3,641.1 L788.2,641.4 L789.0,641.7 L789.9,642.0 L790.7,642.3 L791.6,642.6 L792.5,642.9 L793.3,643.2 L794.2,643.4 L795.0,643.7 L795.9,644.0 L796.8,644.3 L797.6,644.5 L798.5,644.8 L799.3,645.0 L800.2,645.3 L801.0,645.6 L801.9,645.8 L802.8,646.1 L803.6,646.3 L804.5,646.5 L805.3,646.8 L806.2,647.0 L807.1,647.3 L807.9,647.5 L808.8,647.7 L809.6,647.9 L810.5,648.2 L811.4,648.4 L812.2,648.6 L813.1,648.8 L813.9,649.1 L814.8,649.3 L815.7,649.5 L816.5,649.7 L817.4,649.9 L818.2,650.1 L819.1,650.3 L820.0,650.5 L820.8,650.7 L821.7,650.9 L822.5,651.1 L823.4,651.3 L824.2,651.5 L825.1,651.7 L826.0,651.9 L826.8,652.1 L827.7,652.2 L828.5,652.4 L829.4,652.6 L830.3,652.8 L831.1,653.0 L832.0,653.1 L832.8,653.3 L833.7,653.5 L834.6,653.7 L835.4,653.8 L836.3,654.0 L837.1,654.2 L838.0,654.3 L838.9,654.5 L839.7,654.7 L840.6,654.8 L841.4,655.0 L842.3,655.1 L843.2,655.3 L844.0,655.5 L844.9,655.6 L845.7,655.8 L846.6,655.9 L847.4,656.1 L848.3,656.2 L849.2,656.4 L850.0,656.5 L850.9,656.6 L851.7,656.8 L852.6,656.9 L853.5,657.1 L854.3,657.2 L855.2,657.3 L856.0,657.5 L856.9,657.6 L857.8,657.8 L858.6,657.9 L859.5,658.0 L860.3,658.2 L861.2,658.3 L862.1,658.4 L862.9,658.5 L863.8,658.7 L864.6,658.8 L865.5,658.9 L866.4,659.0 L867.2,659.2 L868.1,659.3 L868.9,659.4 L869.8,659.5 L870.6,659.6 L871.5,659.8 L872.4,659.9 L873.2,660.0 L874.1,660.1 L874.9,660.2 L875.8,660.3 L876.7,660.4 L877.5,660.6 L878.4,660.7 L879.2,660.8 L880.1,660.9 L881.0,661.0 L881.8,661.1 L882.7,661.2 L883.5,661.3 L884.4,661.4 L885.3,661.5 L886.1,661.6 L887.0,661.7 L887.8,661.8 L888.7,661.9 L889.6,662.0 L890.4,662.1 L891.3,662.2 L892.1,662.3 L893.0,662.4 L893.8,662.5 L894.7,662.6 L895.6,662.7 L896.4,662.8 L897.3,662.9 L898.1,663.0 L899.0,663.1 L899.9,663.2 L900.7,663.2 L901.6,663.3 L902.4,663.4 L903.3,663.5" stroke="#111" stroke-width="1.6" stroke-dasharray="3.1 1.6"/>
<path d="M559.6,590.8 L576.3,469.5 L584.9,463.9 L594.0,491.9 L602.6,520.5 L611.2,540.4 L645.5,603.2 L688.5,636.2 L731.5,651.1 L817.4,660.5 L903.3,669.2" stroke="#00f" stroke-width="2.8"/>
</g>
<path d="M559.6,681.0 v-3.5 M559.6,432.2 v3.5 M645.5,681.0 v-3.5 M645.5,432.2 v3.5 M731.5,681.0 v-3.5 M731.5,432.2 v3.5 M817.4,681.0 v-3.5 M817.4,432.2 v3.5 M903.3,681.0 v-3.5 M903.3,432.2 v3.5 M559.6,681.0 h3.5 M903.3,681.0 h-3.5 M559.6,649.9 h3.5 M903.3,649.9 h-3.5 M559.6,618.8 h3.5 M903.3,618.8 h-3.5 M559.6,587.7 h3.5 M903.3,587.7 h-3.5 M559.6,556.6 h3.5 M903.3,556.6 h-3.5 M559.6,525.5 h3.5 M903.3,525.5 h-3.5 M559.6,494.4 h3.5 M903.3,494.4 h-3.5 M559.6,463.3 h3.5 M903.3,463.3 h-3.5 M559.6,432.2 h3.5 M903.3,432.2 h-3.5" stroke="#444" stroke-width="1" fill="none"/>
<rect x="559.6" y="432.2" width="343.7" height="248.8" fill="none" stroke="#555" stroke-width="1"/>
<rect x="698.2" y="447.5" width="182.3" height="45.8" fill="#fff" stroke="#444" stroke-width="0.9"/>
<path d="M702.8,456.2 H724.4" stroke="#00f" stroke-width="2.6"/>
<path d="M702.8,470.5 H724.4" stroke="#f00" stroke-width="1.6" stroke-dasharray="3.1 1.6"/>
<path d="M702.8,484.7 H724.4" stroke="#111" stroke-width="1.6" stroke-dasharray="3.1 1.6"/>
<g font-family="Liberation Serif, serif" font-size="11.6" fill="#111" stroke="#111" stroke-width="0.3">
<text x="727.4" y="460">Helyszíni spektrum</text>
<text x="727.4" y="474.3">Szabványos spektrum 1-es típus</text>
<text x="727.4" y="488.5">Szabványos spektrum 2-es típus</text>
</g>
<g font-family="Liberation Serif, serif" font-size="12.1" fill="#111" stroke="#111" stroke-width="0.3">
<text x="559.6" y="693.3" text-anchor="middle">0</text>
<text x="645.5" y="693.3" text-anchor="middle">0.5</text>
<text x="731.5" y="693.3" text-anchor="middle">1</text>
<text x="817.4" y="693.3" text-anchor="middle">1.5</text>
<text x="903.3" y="693.3" text-anchor="middle">2</text>
<text x="556.6" y="684.6" text-anchor="end">0</text>
<text x="556.6" y="653.5" text-anchor="end">0.5</text>
<text x="556.6" y="622.4" text-anchor="end">1</text>
<text x="556.6" y="591.3" text-anchor="end">1.5</text>
<text x="556.6" y="560.2" text-anchor="end">2</text>
<text x="556.6" y="529.1" text-anchor="end">2.5</text>
<text x="556.6" y="498.0" text-anchor="end">3</text>
<text x="556.6" y="466.9" text-anchor="end">3.5</text>
<text x="556.6" y="435.8" text-anchor="end">4</text>
</g>
<g font-family="Liberation Serif, serif" font-size="13.6" fill="#111" stroke="#111" stroke-width="0.3">
<text x="730.2" y="707.2" text-anchor="middle">Periódusidő (s)</text>
<text transform="translate(535.5,557) rotate(-90)" text-anchor="middle">Spektrális gyorsulás (m/s<tspan dy="-7.5" dx="-4" font-size="9">2</tspan><tspan dy="7.5" dx="0.5">)</tspan></text>
</g>
</g>
</svg>
</body></html>
